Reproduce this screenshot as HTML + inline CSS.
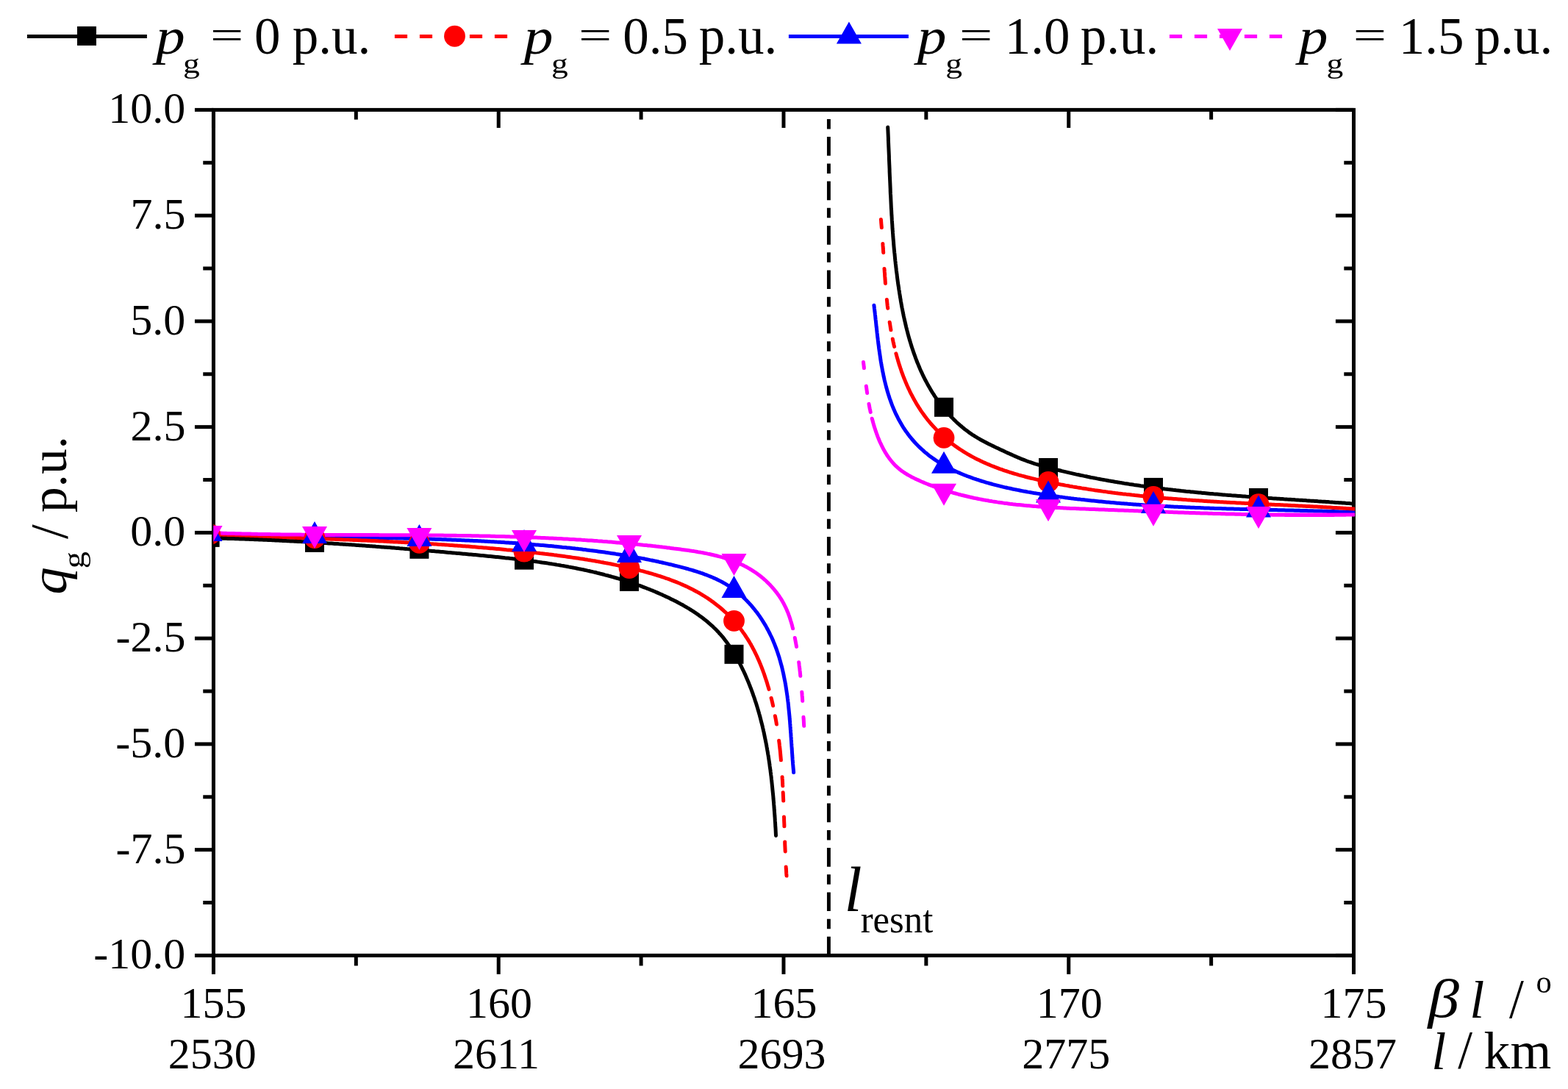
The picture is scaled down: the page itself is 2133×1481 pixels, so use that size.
<!DOCTYPE html>
<html><head><meta charset="utf-8"><title>q_g vs beta l</title>
<style>html,body{margin:0;padding:0;background:#fff;overflow:hidden;}</style>
</head><body>
<svg width="2133" height="1481" viewBox="0 0 2133 1481" style="display:block;font-family:'Liberation Serif',serif;">
<rect width="2133" height="1481" fill="#fff"/>
<g stroke-width="5.1" fill="none">
<line x1="36.9" y1="49.45" x2="199.9" y2="49.45" stroke="#000"/>
<line x1="536.9" y1="49.45" x2="699.9" y2="49.45" stroke="#f00" stroke-dasharray="17.2 16.8"/>
<line x1="1072.9" y1="49.45" x2="1235.9" y2="49.45" stroke="#00f"/>
<line x1="1590.9" y1="49.45" x2="1753.9" y2="49.45" stroke="#f0f" stroke-dasharray="17.2 16.8"/>
</g>
<rect x="105.00" y="35.90" width="26" height="26" fill="#000"/>
<circle cx="618.50" cy="49.25" r="14.4" fill="#f00"/>
<polygon points="1154.90,29.60 1171.90,59.60 1137.90,59.60" fill="#00f"/>
<polygon points="1656.00,38.90 1690.00,38.90 1673.00,68.90" fill="#f0f"/>
<text transform="translate(207.30,40.70) scale(1.1204,0.9754)" x="4.19" y="33.44" font-size="71.00" style="font-style:italic;">p</text>
<text transform="translate(250.90,78.90) scale(1.1676,0.9932)" x="-1.68" y="20.01" font-size="39.00" style="">g</text>
<text transform="translate(290.00,73.3) scale(1.132,0.767)" x="-3.55" y="-9.66" font-size="71">=</text>
<text x="346.10" y="73.30" font-size="71" style="">0</text>
<text x="397.86" y="73.30" font-size="71" style="">p.u.</text>
<text transform="translate(708.10,40.70) scale(1.1204,0.9754)" x="4.19" y="33.44" font-size="71.00" style="font-style:italic;">p</text>
<text transform="translate(752.00,78.90) scale(1.1676,0.9932)" x="-1.68" y="20.01" font-size="39.00" style="">g</text>
<text transform="translate(791.10,73.3) scale(1.132,0.767)" x="-3.55" y="-9.66" font-size="71">=</text>
<text x="847.20" y="73.30" font-size="71" style="">0.5</text>
<text x="950.86" y="73.30" font-size="71" style="">p.u.</text>
<text transform="translate(1243.10,40.70) scale(1.1204,0.9754)" x="4.19" y="33.44" font-size="71.00" style="font-style:italic;">p</text>
<text transform="translate(1288.20,78.90) scale(1.1676,0.9932)" x="-1.68" y="20.01" font-size="39.00" style="">g</text>
<text transform="translate(1308.90,73.3) scale(1.132,0.767)" x="-3.55" y="-9.66" font-size="71">=</text>
<text x="1366.85" y="73.30" font-size="71" style="">1.0</text>
<text x="1469.86" y="73.30" font-size="71" style="">p.u.</text>
<text transform="translate(1762.10,40.70) scale(1.1204,0.9754)" x="4.19" y="33.44" font-size="71.00" style="font-style:italic;">p</text>
<text transform="translate(1806.50,78.90) scale(1.1676,0.9932)" x="-1.68" y="20.01" font-size="39.00" style="">g</text>
<text transform="translate(1844.80,73.3) scale(1.132,0.767)" x="-3.55" y="-9.66" font-size="71">=</text>
<text x="1902.65" y="73.30" font-size="71" style="">1.5</text>
<text x="2005.86" y="73.30" font-size="71" style="">p.u.</text>
<g stroke="#000" stroke-width="5.0" fill="none">
<rect x="290.45" y="149.4" width="1551.05" height="1150.0" stroke-linejoin="miter"/>
<line x1="290.45" y1="1299.4" x2="290.45" y2="1324.9"/>
<line x1="290.45" y1="149.4" x2="290.45" y2="173.9"/>
<line x1="678.21" y1="1299.4" x2="678.21" y2="1324.9"/>
<line x1="678.21" y1="149.4" x2="678.21" y2="173.9"/>
<line x1="1065.97" y1="1299.4" x2="1065.97" y2="1324.9"/>
<line x1="1065.97" y1="149.4" x2="1065.97" y2="173.9"/>
<line x1="1453.74" y1="1299.4" x2="1453.74" y2="1324.9"/>
<line x1="1453.74" y1="149.4" x2="1453.74" y2="173.9"/>
<line x1="1841.50" y1="1299.4" x2="1841.50" y2="1324.9"/>
<line x1="1841.50" y1="149.4" x2="1841.50" y2="173.9"/>
<line x1="484.33" y1="1299.4" x2="484.33" y2="1313.4"/>
<line x1="484.33" y1="149.4" x2="484.33" y2="162.6"/>
<line x1="872.09" y1="1299.4" x2="872.09" y2="1313.4"/>
<line x1="872.09" y1="149.4" x2="872.09" y2="162.6"/>
<line x1="1259.86" y1="1299.4" x2="1259.86" y2="1313.4"/>
<line x1="1259.86" y1="149.4" x2="1259.86" y2="162.6"/>
<line x1="1647.62" y1="1299.4" x2="1647.62" y2="1313.4"/>
<line x1="1647.62" y1="149.4" x2="1647.62" y2="162.6"/>
<line x1="290.45" y1="149.40" x2="264.95" y2="149.40"/>
<line x1="1841.5" y1="149.40" x2="1816.90" y2="149.40"/>
<line x1="290.45" y1="293.15" x2="264.95" y2="293.15"/>
<line x1="1841.5" y1="293.15" x2="1816.90" y2="293.15"/>
<line x1="290.45" y1="436.90" x2="264.95" y2="436.90"/>
<line x1="1841.5" y1="436.90" x2="1816.90" y2="436.90"/>
<line x1="290.45" y1="580.65" x2="264.95" y2="580.65"/>
<line x1="1841.5" y1="580.65" x2="1816.90" y2="580.65"/>
<line x1="290.45" y1="724.40" x2="264.95" y2="724.40"/>
<line x1="1841.5" y1="724.40" x2="1816.90" y2="724.40"/>
<line x1="290.45" y1="868.15" x2="264.95" y2="868.15"/>
<line x1="1841.5" y1="868.15" x2="1816.90" y2="868.15"/>
<line x1="290.45" y1="1011.90" x2="264.95" y2="1011.90"/>
<line x1="1841.5" y1="1011.90" x2="1816.90" y2="1011.90"/>
<line x1="290.45" y1="1155.65" x2="264.95" y2="1155.65"/>
<line x1="1841.5" y1="1155.65" x2="1816.90" y2="1155.65"/>
<line x1="290.45" y1="1299.40" x2="264.95" y2="1299.40"/>
<line x1="1841.5" y1="1299.40" x2="1816.90" y2="1299.40"/>
<line x1="290.45" y1="221.28" x2="276.25" y2="221.28"/>
<line x1="1841.5" y1="221.28" x2="1828.30" y2="221.28"/>
<line x1="290.45" y1="365.03" x2="276.25" y2="365.03"/>
<line x1="1841.5" y1="365.03" x2="1828.30" y2="365.03"/>
<line x1="290.45" y1="508.78" x2="276.25" y2="508.78"/>
<line x1="1841.5" y1="508.78" x2="1828.30" y2="508.78"/>
<line x1="290.45" y1="652.53" x2="276.25" y2="652.53"/>
<line x1="1841.5" y1="652.53" x2="1828.30" y2="652.53"/>
<line x1="290.45" y1="796.28" x2="276.25" y2="796.28"/>
<line x1="1841.5" y1="796.28" x2="1828.30" y2="796.28"/>
<line x1="290.45" y1="940.03" x2="276.25" y2="940.03"/>
<line x1="1841.5" y1="940.03" x2="1828.30" y2="940.03"/>
<line x1="290.45" y1="1083.78" x2="276.25" y2="1083.78"/>
<line x1="1841.5" y1="1083.78" x2="1828.30" y2="1083.78"/>
<line x1="290.45" y1="1227.53" x2="276.25" y2="1227.53"/>
<line x1="1841.5" y1="1227.53" x2="1828.30" y2="1227.53"/>
</g>
<text x="147.34" y="167.40" font-size="60" style="">10.0</text>
<text x="177.40" y="311.15" font-size="60" style="">7.5</text>
<text x="177.34" y="454.90" font-size="60" style="">5.0</text>
<text x="177.40" y="598.65" font-size="60" style="">2.5</text>
<text x="177.34" y="742.40" font-size="60" style="">0.0</text>
<text x="157.42" y="886.15" font-size="60" style="">-2.5</text>
<text x="157.36" y="1029.90" font-size="60" style="">-5.0</text>
<text x="157.42" y="1173.65" font-size="60" style="">-7.5</text>
<text x="127.36" y="1317.40" font-size="60" style="">-10.0</text>
<text x="245.56" y="1383.50" font-size="60" style="">155</text>
<text x="228.85" y="1452.60" font-size="60" style="">2530</text>
<text x="633.93" y="1383.50" font-size="60" style="">160</text>
<text x="616.12" y="1452.60" font-size="60" style="">2611</text>
<text x="1021.56" y="1383.50" font-size="60" style="">165</text>
<text x="1003.38" y="1452.60" font-size="60" style="">2693</text>
<text x="1409.63" y="1383.50" font-size="60" style="">170</text>
<text x="1390.18" y="1452.60" font-size="60" style="">2775</text>
<text x="1796.56" y="1383.50" font-size="60" style="">175</text>
<text x="1780.08" y="1452.60" font-size="60" style="">2857</text>
<text transform="translate(1941.11,1330.60) scale(1.1500,1.0061)" x="1.18" y="52.10" font-size="74.00" style="font-style:italic;">β</text>
<text transform="translate(2003.13,1334.00) scale(1.0000,1.0021)" x="-3.82" y="49.97" font-size="72.00" style="font-style:italic;">l</text>
<text transform="translate(2053.00,1334.00) scale(0.9928,1.0500)" x="-0.00" y="47.45" font-size="72.00" style="">/</text>
<text transform="translate(2091.00,1328.90) scale(0.9896,1.0174)" x="-1.63" y="20.25" font-size="43.00" style="">o</text>
<text transform="translate(1951.08,1403.80) scale(1.0000,1.0041)" x="-3.82" y="49.97" font-size="72.00" style="font-style:italic;">l</text>
<text transform="translate(1983.20,1404.00) scale(0.9878,1.0396)" x="-0.00" y="47.45" font-size="72.00" style="">/</text>
<text transform="translate(2019.90,1403.80) scale(0.9964,0.9840)" x="-1.37" y="49.97" font-size="72.00" style="">km</text>
<g transform="translate(91,0) rotate(-90)">
<text transform="translate(-806.00,-33.00) scale(1.0516,0.9692)" x="-2.34" y="33.44" font-size="71.00" style="font-style:italic;">q</text>
<text transform="translate(-771.20,3.00) scale(1.1556,0.9959)" x="-1.72" y="20.52" font-size="40.00" style="">g</text>
<text x="-733.00" y="0.00" font-size="71" style="">/</text>
<text transform="translate(-695.90,-33.30) scale(0.9751,0.9713)" x="-1.14" y="33.44" font-size="71.00" style="">p.u.</text>
</g>
<line x1="1127.4" y1="162" x2="1127.4" y2="1299" stroke="#000" stroke-width="4.9" stroke-dasharray="13.5 10.6 25.7 10.63"/>
<text transform="translate(1153.06,1178.80) scale(1.0000,1.0026)" x="-4.58" y="60.03" font-size="86.50" style="font-style:italic;">l</text>
<text transform="translate(1171.70,1237.90) scale(0.9952,1.0318)" x="-1.02" y="28.71" font-size="51.00" style="">resnt</text>
<defs><clipPath id="pc"><rect x="290.45" y="0" width="1552.75" height="1481"/></clipPath></defs>
<g clip-path="url(#pc)" fill="none" stroke-width="5.0" stroke-linejoin="round">
<path d="M285.7,725.7 L287.9,725.8 L290.1,725.9 L292.4,726.0 L294.6,726.1 L296.8,726.2 L299.0,726.3 L301.3,726.4 L303.5,726.5 L305.7,726.6 L308.0,726.6 L310.2,726.7 L312.4,726.8 L314.7,726.9 L316.9,727.0 L319.1,727.1 L321.4,727.1 L323.6,727.2 L325.8,727.3 L328.1,727.4 L330.3,727.5 L332.5,727.5 L334.8,727.6 L337.0,727.7 L339.2,727.7 L341.5,727.8 L343.7,727.9 L345.9,728.0 L348.2,728.0 L350.4,728.1 L352.7,728.1 L354.9,728.2 L357.1,728.3 L359.4,728.3 L361.6,728.4 L363.8,728.5 L366.1,728.5 L368.3,728.6 L370.6,728.6 L372.8,728.7 L375.0,728.7 L377.3,728.8 L379.5,728.8 L381.8,728.9 L384.0,728.9 L386.2,729.0 L388.5,729.0 L390.7,729.1 L393.0,729.1 L395.2,729.2 L397.4,729.2 L399.7,729.3 L401.9,729.3 L404.2,729.4 L406.4,729.4 L408.7,729.5 L410.9,729.5 L413.1,729.6 L415.4,729.6 L417.6,729.6 L419.9,729.7 L422.1,729.7 L424.4,729.8 L426.6,729.8 L428.9,729.9 L431.1,729.9 L433.3,729.9 L435.6,730.0 L437.8,730.0 L440.1,730.1 L442.3,730.1 L444.6,730.1 L446.8,730.2 L449.1,730.2 L451.3,730.3 L453.6,730.3 L455.8,730.3 L458.0,730.4 L460.3,730.4 L462.5,730.4 L464.8,730.5 L467.0,730.5 L469.3,730.6 L471.5,730.6 L473.8,730.6 L476.0,730.7 L478.3,730.7 L480.5,730.8 L482.8,730.8 L485.0,730.8 L487.3,730.9 L489.5,730.9 L491.7,731.0 L494.0,731.0 L496.2,731.0 L498.5,731.1 L500.7,731.1 L503.0,731.2 L505.2,731.2 L507.5,731.2 L509.7,731.3 L512.0,731.3 L514.2,731.4 L516.5,731.4 L518.7,731.5 L521.0,731.5 L523.2,731.6 L525.5,731.6 L527.7,731.6 L530.0,731.7 L532.2,731.7 L534.4,731.8 L536.7,731.8 L538.9,731.9 L541.2,731.9 L543.4,732.0 L545.7,732.0 L547.9,732.1 L550.2,732.2 L552.4,732.2 L554.7,732.3 L556.9,732.3 L559.2,732.4 L561.4,732.4 L563.7,732.5 L565.9,732.6 L568.1,732.6 L570.4,732.7 L572.6,732.7 L574.9,732.8 L577.1,732.9 L579.4,732.9 L581.6,733.0 L583.9,733.1 L586.1,733.1 L588.4,733.2 L590.6,733.3 L592.8,733.4 L595.1,733.4 L597.3,733.5 L599.6,733.6 L601.8,733.7 L604.1,733.7 L606.3,733.8 L608.6,733.9 L610.8,734.0 L613.0,734.1 L615.3,734.2 L617.5,734.2 L619.8,734.3 L622.0,734.4 L624.3,734.5 L626.5,734.6 L628.7,734.7 L631.0,734.8 L633.2,734.9 L635.5,735.0 L637.7,735.1 L640.0,735.2 L642.2,735.3 L644.4,735.4 L646.7,735.5 L648.9,735.6 L651.2,735.7 L653.4,735.8 L655.6,736.0 L657.9,736.1 L660.1,736.2 L662.3,736.3 L664.6,736.4 L666.8,736.6 L669.1,736.7 L671.3,736.8 L673.5,736.9 L675.8,737.1 L678.0,737.2 L680.2,737.3 L682.5,737.5 L684.7,737.6 L687.0,737.8 L689.2,737.9 L691.4,738.0 L693.7,738.2 L695.9,738.3 L698.1,738.5 L700.4,738.6 L702.6,738.8 L704.8,739.0 L707.1,739.1 L709.3,739.3 L711.5,739.5 L713.8,739.6 L716.0,739.8 L718.2,740.0 L720.5,740.1 L722.7,740.3 L724.9,740.5 L727.1,740.7 L729.4,740.9 L731.6,741.0 L733.8,741.2 L736.1,741.4 L738.3,741.6 L740.5,741.8 L742.7,742.0 L745.0,742.2 L747.2,742.4 L749.4,742.6 L751.6,742.8 L753.9,743.1 L756.1,743.3 L758.3,743.5 L760.5,743.7 L762.8,743.9 L765.0,744.2 L767.2,744.4 L769.4,744.6 L771.6,744.9 L773.9,745.1 L776.1,745.3 L778.3,745.6 L780.5,745.8 L782.7,746.1 L785.0,746.3 L787.2,746.6 L789.4,746.8 L791.6,747.1 L793.8,747.4 L796.1,747.6 L798.3,747.9 L800.5,748.2 L802.7,748.5 L804.9,748.7 L807.1,749.0 L809.3,749.3 L811.5,749.6 L813.8,749.9 L816.0,750.2 L818.2,750.5 L820.4,750.8 L822.6,751.1 L824.8,751.4 L827.0,751.7 L829.2,752.1 L831.4,752.4 L833.7,752.7 L835.9,753.0 L838.1,753.4 L840.3,753.7 L842.5,754.1 L844.7,754.4 L846.9,754.8 L849.1,755.1 L851.3,755.5 L853.5,755.9 L855.7,756.2 L857.9,756.6 L860.1,757.0 L862.3,757.4 L864.5,757.8 L866.7,758.2 L869.0,758.6 L871.2,759.0 L873.4,759.4 L875.6,759.8 L877.8,760.3 L880.0,760.7 L882.2,761.1 L884.4,761.6 L886.6,762.0 L888.8,762.5 L890.7,762.9 L892.7,763.3 L894.7,763.7 L896.6,764.2 L898.6,764.6 L900.5,765.0 L902.5,765.5 L904.4,765.9 L906.4,766.4 L908.4,766.8 L910.3,767.3 L912.3,767.7 L914.2,768.2 L916.2,768.7 L918.1,769.2 L920.1,769.6 L922.0,770.1 L924.0,770.6 L926.0,771.1 L927.9,771.6 L929.9,772.2 L931.8,772.7 L933.8,773.2 L935.7,773.7 L937.7,774.3 L939.6,774.8 L941.6,775.4 L943.5,776.0 L945.4,776.6 L947.3,777.2 L949.3,777.8 L951.2,778.4 L953.1,779.1 L955.0,779.7 L956.9,780.4 L958.7,781.1 L960.9,781.8 L963.0,782.7 L965.0,783.5 L967.1,784.3 L969.2,785.2 L971.2,786.1 L973.2,787.0 L975.3,787.9 L977.3,788.9 L979.2,789.9 L981.2,790.9 L983.2,792.0 L985.1,793.1 L987.0,794.2 L988.9,795.3 L990.8,796.5 L992.6,797.7 L994.4,798.9 L996.2,800.2 L998.0,801.4 L999.8,802.8 L1001.5,804.1 L1003.3,805.5 L1005.0,806.9 L1006.6,808.3 L1008.3,809.7 L1009.9,811.2 L1011.6,812.7 L1013.1,814.3 L1014.7,815.8 L1016.3,817.4 L1017.8,819.0 L1019.3,820.6 L1020.8,822.2 L1022.3,823.9 L1023.7,825.6 L1025.1,827.3 L1026.5,829.0 L1027.9,830.8 L1029.3,832.5 L1030.6,834.3 L1031.9,836.1 L1033.2,837.9 L1034.5,839.8 L1035.7,841.6 L1036.9,843.5 L1038.1,845.4 L1039.3,847.3 L1040.4,849.2 L1041.6,851.1 L1042.7,853.1 L1043.7,855.0 L1044.8,857.0 L1045.8,859.0 L1046.9,861.0 L1047.8,863.0 L1048.8,865.0 L1049.8,867.0 L1050.7,869.1 L1051.6,871.1 L1052.4,873.2 L1053.3,875.2 L1054.1,877.3 L1054.9,879.4 L1055.7,881.5 L1056.5,883.6 L1057.2,885.7 L1057.9,887.8 L1058.6,889.9 L1059.3,892.0 L1060.0,894.1 L1060.6,896.3 L1061.2,898.4 L1061.8,900.6 L1062.4,902.8 L1063.0,904.9 L1063.6,907.1 L1064.1,909.3 L1064.6,911.5 L1065.1,913.6 L1065.6,915.8 L1066.0,917.8 L1066.4,919.8 L1066.8,921.7 L1067.2,923.7 L1067.6,925.7 L1068.0,927.6 L1068.3,929.6 L1068.7,931.6 L1069.0,933.6 L1069.3,935.5 L1069.6,937.5 L1069.9,939.5 L1070.2,941.5 L1070.5,943.5 L1070.8,945.5 L1071.1,947.5 L1071.3,949.5 L1071.6,951.5 L1071.8,953.5 L1072.1,955.5 L1072.3,957.5 L1072.5,959.5 L1072.7,961.5 L1072.9,963.6 L1073.1,965.6 L1073.3,967.6 L1073.5,969.6 L1073.7,971.6 L1073.9,973.6 L1074.1,975.6 L1074.2,977.6 L1074.4,979.6 L1074.6,981.7 L1074.7,983.7 L1074.9,985.7 L1075.0,987.7 L1075.2,989.7 L1075.3,991.7 L1075.5,993.7 L1075.6,995.7 L1075.8,997.7 L1075.9,999.7 L1076.0,1001.7 L1076.2,1003.7 L1076.3,1005.7 L1076.5,1007.9 L1076.6,1010.2 L1076.8,1012.4 L1076.9,1014.7 L1077.1,1016.9 L1077.2,1019.1 L1077.4,1021.3 L1077.5,1023.5 L1077.7,1025.8 L1077.8,1028.0 L1078.0,1030.2 L1078.1,1032.4 L1078.3,1034.6 L1078.5,1036.8 L1078.6,1038.9 L1078.8,1041.1 L1079.0,1043.3 L1079.2,1045.5 L1079.4,1047.6 L1079.6,1049.8 L1079.6,1050.5" stroke="#0000ff" stroke-linecap="round"/>
<path d="M1188.9,415.2 L1189.2,417.4 L1189.4,419.5 L1189.7,421.6 L1189.9,423.7 L1190.2,425.9 L1190.4,428.0 L1190.7,430.2 L1190.9,432.4 L1191.1,434.5 L1191.4,436.7 L1191.6,438.7 L1191.8,440.7 L1192.0,442.7 L1192.2,444.7 L1192.5,446.7 L1192.7,448.8 L1192.9,450.8 L1193.1,452.8 L1193.4,454.9 L1193.6,456.9 L1193.8,458.9 L1194.1,461.0 L1194.3,463.0 L1194.6,465.1 L1194.8,467.2 L1195.1,469.2 L1195.4,471.3 L1195.6,473.3 L1195.9,475.4 L1196.2,477.5 L1196.5,479.5 L1196.8,481.6 L1197.1,483.6 L1197.4,485.7 L1197.7,487.8 L1198.0,489.8 L1198.3,491.9 L1198.7,494.0 L1199.0,496.0 L1199.4,498.1 L1199.8,500.1 L1200.2,502.2 L1200.5,504.2 L1201.0,506.3 L1201.4,508.3 L1201.8,510.4 L1202.2,512.4 L1202.7,514.4 L1203.1,516.5 L1203.6,518.5 L1204.1,520.5 L1204.6,522.5 L1205.1,524.5 L1205.6,526.5 L1206.2,528.5 L1206.7,530.5 L1207.3,532.5 L1207.9,534.5 L1208.5,536.4 L1209.1,538.4 L1209.8,540.4 L1210.4,542.3 L1211.1,544.2 L1211.8,546.2 L1212.5,548.1 L1213.2,550.0 L1213.9,551.9 L1214.7,553.8 L1215.5,555.7 L1216.3,557.5 L1217.1,559.4 L1217.9,561.2 L1218.8,563.1 L1219.7,564.9 L1220.6,566.7 L1221.5,568.5 L1222.4,570.3 L1223.4,572.1 L1224.4,573.8 L1225.4,575.6 L1226.4,577.3 L1227.4,579.0 L1228.5,580.8 L1229.6,582.5 L1230.7,584.1 L1231.8,585.8 L1233.0,587.4 L1234.2,589.1 L1235.4,590.7 L1236.6,592.3 L1237.8,593.9 L1239.1,595.4 L1240.4,597.0 L1241.7,598.5 L1243.0,600.0 L1244.3,601.5 L1245.7,603.0 L1247.1,604.4 L1248.5,605.9 L1249.9,607.3 L1251.3,608.7 L1252.8,610.0 L1254.3,611.4 L1255.8,612.7 L1257.3,614.1 L1258.8,615.4 L1260.4,616.6 L1261.9,617.9 L1263.5,619.2 L1265.1,620.4 L1266.7,621.6 L1268.4,622.8 L1270.0,623.9 L1271.7,625.1 L1273.4,626.2 L1275.0,627.3 L1276.7,628.4 L1278.5,629.5 L1280.2,630.5 L1281.9,631.6 L1283.7,632.6 L1285.5,633.6 L1287.2,634.5 L1289.0,635.5 L1290.8,636.5 L1292.6,637.4 L1294.5,638.3 L1296.3,639.2 L1298.1,640.1 L1300.0,640.9 L1301.8,641.8 L1303.7,642.6 L1305.6,643.4 L1307.5,644.2 L1309.4,645.0 L1311.3,645.8 L1313.2,646.5 L1315.1,647.3 L1317.0,648.0 L1318.9,648.7 L1320.9,649.4 L1322.8,650.1 L1324.8,650.8 L1326.7,651.4 L1328.7,652.1 L1330.6,652.7 L1332.6,653.4 L1334.5,654.0 L1336.5,654.6 L1338.5,655.2 L1340.5,655.8 L1342.4,656.4 L1344.4,656.9 L1346.4,657.5 L1348.4,658.0 L1350.4,658.6 L1352.3,659.1 L1354.3,659.6 L1356.3,660.1 L1358.3,660.6 L1360.3,661.1 L1362.3,661.6 L1364.3,662.1 L1366.3,662.6 L1368.3,663.0 L1370.3,663.5 L1372.3,663.9 L1374.3,664.3 L1376.3,664.8 L1378.3,665.2 L1380.3,665.6 L1382.3,666.0 L1384.3,666.4 L1386.3,666.8 L1388.3,667.2 L1390.3,667.6 L1392.3,668.0 L1394.4,668.3 L1396.4,668.7 L1398.4,669.1 L1400.4,669.4 L1402.4,669.8 L1404.4,670.1 L1406.4,670.5 L1408.5,670.8 L1410.5,671.1 L1412.5,671.4 L1414.5,671.8 L1416.5,672.1 L1418.6,672.4 L1420.6,672.7 L1422.6,673.0 L1424.6,673.3 L1426.7,673.6 L1428.7,673.9 L1430.7,674.2 L1432.7,674.5 L1434.7,674.8 L1436.8,675.1 L1438.8,675.3 L1440.8,675.6 L1442.8,675.9 L1444.9,676.1 L1446.9,676.4 L1448.9,676.7 L1451.0,676.9 L1453.0,677.2 L1455.0,677.4 L1457.0,677.7 L1459.1,677.9 L1461.1,678.2 L1463.1,678.4 L1465.2,678.7 L1467.2,678.9 L1469.2,679.1 L1471.2,679.4 L1473.3,679.6 L1475.3,679.8 L1477.3,680.1 L1479.4,680.3 L1481.4,680.5 L1483.4,680.7 L1485.5,680.9 L1487.5,681.1 L1489.5,681.3 L1491.6,681.5 L1493.6,681.7 L1495.6,681.9 L1497.7,682.1 L1499.7,682.3 L1501.7,682.5 L1503.8,682.7 L1505.8,682.9 L1507.8,683.1 L1509.9,683.3 L1511.9,683.5 L1513.9,683.6 L1516.0,683.8 L1518.0,684.0 L1520.0,684.2 L1522.1,684.3 L1524.1,684.5 L1526.1,684.7 L1528.2,684.8 L1530.2,685.0 L1532.3,685.1 L1534.3,685.3 L1536.3,685.4 L1538.4,685.6 L1540.4,685.7 L1542.4,685.9 L1544.5,686.0 L1546.5,686.2 L1548.6,686.3 L1550.6,686.5 L1552.6,686.6 L1554.7,686.7 L1556.7,686.9 L1558.8,687.0 L1560.8,687.1 L1562.8,687.2 L1564.9,687.4 L1566.9,687.5 L1569.0,687.6 L1571.0,687.7 L1573.0,687.9 L1575.1,688.0 L1577.1,688.1 L1579.2,688.2 L1581.2,688.3 L1583.3,688.4 L1585.3,688.5 L1587.3,688.6 L1589.4,688.7 L1591.4,688.8 L1593.5,689.0 L1595.5,689.1 L1597.5,689.2 L1599.6,689.3 L1601.6,689.3 L1603.7,689.4 L1605.7,689.5 L1607.8,689.6 L1609.8,689.7 L1611.8,689.8 L1613.9,689.9 L1615.9,690.0 L1618.0,690.1 L1620.0,690.2 L1622.1,690.2 L1624.1,690.3 L1626.2,690.4 L1628.2,690.5 L1630.2,690.6 L1632.3,690.6 L1634.3,690.7 L1636.4,690.8 L1638.4,690.9 L1640.5,690.9 L1642.5,691.0 L1644.6,691.1 L1646.6,691.2 L1648.7,691.2 L1650.7,691.3 L1652.7,691.4 L1654.8,691.4 L1656.8,691.5 L1658.9,691.6 L1660.9,691.6 L1663.0,691.7 L1665.0,691.7 L1667.1,691.8 L1669.1,691.9 L1671.2,691.9 L1673.2,692.0 L1675.2,692.0 L1677.3,692.1 L1679.3,692.2 L1681.4,692.2 L1683.4,692.3 L1685.5,692.3 L1687.5,692.4 L1689.6,692.4 L1691.6,692.5 L1693.7,692.5 L1695.7,692.6 L1697.8,692.7 L1699.8,692.7 L1701.8,692.8 L1703.9,692.8 L1705.9,692.9 L1708.0,692.9 L1710.0,693.0 L1712.1,693.0 L1714.1,693.1 L1716.2,693.1 L1718.2,693.2 L1720.3,693.2 L1722.3,693.3 L1724.4,693.3 L1726.4,693.4 L1728.4,693.4 L1730.5,693.5 L1732.5,693.5 L1734.6,693.6 L1736.6,693.6 L1738.7,693.7 L1740.7,693.7 L1742.8,693.8 L1744.8,693.8 L1746.9,693.8 L1748.9,693.9 L1750.9,693.9 L1753.0,694.0 L1755.0,694.0 L1757.1,694.1 L1759.1,694.1 L1761.2,694.2 L1763.2,694.2 L1765.3,694.3 L1767.3,694.3 L1769.4,694.4 L1771.4,694.4 L1773.4,694.5 L1775.5,694.5 L1777.5,694.6 L1779.6,694.7 L1781.6,694.7 L1783.7,694.8 L1785.7,694.8 L1787.8,694.9 L1789.8,694.9 L1791.8,695.0 L1793.9,695.0 L1795.9,695.1 L1798.0,695.1 L1800.0,695.2 L1802.1,695.3 L1804.1,695.3 L1806.2,695.4 L1808.2,695.4 L1810.2,695.5 L1812.3,695.6 L1814.3,695.6 L1816.4,695.7 L1818.4,695.8 L1820.4,695.8 L1822.5,695.9 L1824.5,696.0 L1826.6,696.0 L1828.6,696.1 L1830.7,696.2 L1832.7,696.2 L1834.7,696.3 L1836.8,696.4 L1838.8,696.5 L1840.9,696.5 L1842.5,696.6" stroke="#0000ff" stroke-linecap="round"/>
<path d="M285.6,727.1 L287.8,727.2 L290.0,727.3 L292.2,727.4 L294.4,727.5 L296.6,727.6 L298.8,727.6 L300.9,727.7 L303.1,727.8 L305.3,727.9 L307.5,728.0 L309.7,728.1 L311.9,728.2 L314.1,728.2 L316.3,728.3 L318.5,728.4 L320.7,728.5 L322.8,728.6 L325.0,728.7 L327.2,728.7 L329.4,728.8 L331.6,728.9 L333.8,729.0 L336.0,729.1 L338.2,729.2 L340.4,729.2 L342.6,729.3 L344.8,729.4 L347.0,729.5 L349.1,729.6 L351.3,729.6 L353.5,729.7 L355.7,729.8 L357.9,729.9 L360.1,729.9 L362.3,730.0 L364.5,730.1 L366.7,730.2 L368.9,730.3 L371.1,730.3 L373.3,730.4 L375.5,730.5 L377.7,730.6 L379.9,730.6 L382.1,730.7 L384.3,730.8 L386.5,730.9 L388.6,731.0 L390.8,731.0 L393.0,731.1 L395.2,731.2 L397.4,731.3 L399.6,731.3 L401.8,731.4 L404.0,731.5 L406.2,731.6 L408.4,731.7 L410.6,731.7 L412.8,731.8 L415.0,731.9 L417.2,732.0 L419.4,732.0 L421.6,732.1 L423.8,732.2 L426.0,732.3 L428.2,732.4 L430.4,732.4 L432.6,732.5 L434.8,732.6 L437.0,732.7 L439.2,732.8 L441.4,732.8 L443.6,732.9 L445.8,733.0 L448.0,733.1 L450.2,733.2 L452.4,733.3 L454.6,733.3 L456.7,733.4 L458.9,733.5 L461.1,733.6 L463.3,733.7 L465.5,733.8 L467.7,733.9 L469.9,733.9 L472.1,734.0 L474.3,734.1 L476.5,734.2 L478.7,734.3 L480.9,734.4 L483.1,734.5 L485.3,734.6 L487.5,734.7 L489.7,734.8 L491.9,734.9 L494.1,734.9 L496.3,735.0 L498.5,735.1 L500.7,735.2 L502.9,735.3 L505.1,735.4 L507.3,735.5 L509.5,735.6 L511.7,735.7 L513.9,735.8 L516.1,735.9 L518.3,736.0 L520.5,736.1 L522.7,736.2 L524.9,736.3 L527.1,736.4 L529.2,736.6 L531.4,736.7 L533.6,736.8 L535.8,736.9 L538.0,737.0 L540.2,737.1 L542.4,737.2 L544.6,737.3 L546.8,737.4 L549.0,737.6 L551.2,737.7 L553.4,737.8 L555.6,737.9 L557.8,738.0 L560.0,738.1 L562.2,738.3 L564.4,738.4 L566.6,738.5 L568.8,738.6 L571.0,738.8 L573.1,738.9 L575.3,739.0 L577.5,739.1 L579.7,739.3 L581.9,739.4 L584.1,739.5 L586.3,739.7 L588.5,739.8 L590.7,740.0 L592.9,740.1 L595.1,740.2 L597.3,740.4 L599.5,740.5 L601.7,740.7 L603.8,740.8 L606.0,740.9 L608.2,741.1 L610.4,741.2 L612.6,741.4 L614.8,741.5 L617.0,741.7 L619.2,741.9 L621.4,742.0 L623.6,742.2 L625.8,742.3 L627.9,742.5 L630.1,742.7 L632.3,742.8 L634.5,743.0 L636.7,743.1 L638.9,743.3 L641.1,743.5 L643.3,743.7 L645.4,743.8 L647.6,744.0 L649.8,744.2 L652.0,744.4 L654.2,744.5 L656.4,744.7 L658.6,744.9 L660.8,745.1 L662.9,745.3 L665.1,745.5 L667.3,745.7 L669.5,745.8 L671.7,746.0 L673.9,746.2 L676.0,746.4 L678.2,746.6 L680.4,746.8 L682.6,747.0 L684.8,747.2 L687.0,747.4 L689.1,747.7 L691.3,747.9 L693.5,748.1 L695.7,748.3 L697.9,748.5 L700.0,748.7 L702.2,748.9 L704.4,749.2 L706.6,749.4 L708.8,749.6 L710.9,749.8 L713.1,750.1 L715.3,750.3 L717.5,750.5 L719.7,750.8 L721.8,751.0 L724.0,751.3 L726.2,751.5 L728.4,751.7 L730.5,752.0 L732.7,752.2 L734.9,752.5 L737.1,752.7 L739.2,753.0 L741.4,753.3 L743.6,753.5 L745.8,753.8 L747.9,754.1 L750.1,754.3 L752.3,754.6 L754.4,754.9 L756.6,755.1 L758.8,755.4 L761.0,755.7 L763.1,756.0 L765.3,756.3 L767.5,756.6 L769.6,756.9 L771.8,757.2 L774.0,757.5 L776.2,757.8 L778.3,758.1 L780.5,758.4 L782.7,758.7 L784.8,759.0 L787.0,759.3 L789.2,759.7 L791.3,760.0 L793.5,760.3 L795.7,760.7 L797.8,761.0 L800.0,761.4 L802.2,761.7 L804.3,762.1 L806.5,762.5 L808.7,762.8 L810.8,763.2 L813.0,763.6 L815.2,764.0 L817.3,764.4 L819.5,764.7 L821.7,765.2 L823.8,765.6 L826.0,766.0 L828.2,766.4 L830.3,766.8 L832.5,767.2 L834.7,767.7 L836.8,768.1 L839.0,768.6 L841.2,769.0 L843.3,769.5 L845.5,769.9 L847.7,770.4 L849.8,770.9 L852.0,771.4 L854.2,771.9 L856.3,772.4 L858.5,772.9 L860.7,773.4 L862.8,773.9 L865.0,774.4 L867.2,775.0 L869.3,775.5 L871.5,776.1 L873.7,776.6 L875.8,777.2 L878.0,777.8 L880.1,778.4 L882.3,779.0 L884.4,779.6 L886.6,780.2 L888.7,780.8 L890.8,781.5 L893.0,782.1 L895.1,782.8 L897.2,783.4 L899.3,784.1 L901.5,784.8 L903.6,785.5 L905.7,786.3 L907.8,787.0 L909.8,787.7 L911.9,788.5 L914.0,789.3 L916.1,790.1 L918.1,790.9 L920.2,791.7 L922.2,792.5 L924.2,793.3 L926.3,794.2 L928.3,795.1 L930.3,796.0 L932.3,796.9 L934.3,797.8 L936.3,798.7 L938.2,799.7 L940.2,800.7 L942.1,801.6 L944.1,802.7 L946.0,803.7 L947.9,804.7 L949.8,805.8 L951.7,806.8 L953.5,807.9 L955.4,809.1 L957.2,810.2 L959.1,811.3 L960.9,812.5 L962.7,813.7 L964.5,814.9 L966.3,816.1 L968.0,817.4 L969.8,818.6 L971.5,819.9 L973.2,821.2 L974.9,822.6 L976.6,823.9 L978.3,825.3 L980.0,826.6 L981.6,828.0 L983.2,829.4 L984.8,830.9 L986.4,832.3 L988.0,833.8 L989.5,835.3 L991.1,836.8 L992.6,838.3 L994.1,839.9 L995.6,841.4 L997.0,843.0 L998.5,844.6 L999.9,846.2 L1001.3,847.8 L1002.7,849.5 L1004.1,851.1 L1005.4,852.8 L1006.8,854.5 L1008.1,856.2 L1009.4,857.9 L1010.6,859.7 L1011.9,861.4 L1013.1,863.2 L1014.3,865.0 L1015.5,866.8 L1016.7,868.6 L1017.8,870.4 L1019.0,872.3 L1020.1,874.2 L1021.2,876.0 L1022.2,877.9 L1023.3,879.8 L1024.3,881.8 L1025.3,883.7 L1026.3,885.6 L1027.3,887.6 L1028.2,889.5 L1029.2,891.5 L1030.1,893.5 L1031.0,895.5 L1031.9,897.5 L1032.8,899.5 L1033.6,901.5 L1034.5,903.6 L1035.3,905.6 L1036.1,907.7 L1036.9,909.7 L1037.7,911.8 L1038.4,913.9 L1039.2,915.9 L1039.9,918.0 L1040.6,920.1 L1041.3,922.2 L1042.0,924.3 L1042.7,926.4 L1043.4,928.5 L1044.0,930.6 L1044.6,932.8 L1045.3,934.9 L1045.9,937.0 L1046.0,937.4" stroke="#ff0000" stroke-linecap="round"/>
<path d="M1049.1,949.3 L1049.7,951.4 L1050.2,953.6 L1050.7,955.7 L1051.2,957.9 L1051.6,959.7" stroke="#ff0000" stroke-linecap="round"/>
<path d="M1054.4,973.7 L1054.8,975.7 L1055.2,977.8 L1055.6,980.0 L1056.0,982.2 L1056.3,984.3 L1056.4,985.0" stroke="#ff0000" stroke-linecap="round"/>
<path d="M1059.6,1007.2 L1059.9,1009.4 L1060.2,1011.6 L1060.4,1013.8 L1060.7,1016.0 L1060.9,1018.2 L1061.2,1020.4 L1061.4,1022.6 L1061.6,1024.8 L1061.8,1027.0 L1062.0,1029.2 L1062.2,1031.4 L1062.4,1033.6 L1062.4,1033.8" stroke="#ff0000" stroke-linecap="round"/>
<path d="M1064.1,1056.7 L1064.2,1058.9 L1064.4,1061.1 L1064.5,1063.3 L1064.6,1065.5 L1064.7,1067.7 L1064.8,1068.7" stroke="#ff0000" stroke-linecap="round"/>
<path d="M1065.2,1077.8 L1065.3,1079.8 L1065.4,1082.1 L1065.5,1084.3 L1065.6,1086.5 L1065.7,1088.7 L1065.7,1089.0" stroke="#ff0000" stroke-linecap="round"/>
<path d="M1066.5,1111.0 L1066.6,1113.2 L1066.6,1115.4 L1066.7,1117.6 L1066.8,1119.7 L1066.9,1121.9 L1066.9,1123.8" stroke="#ff0000" stroke-linecap="round"/>
<path d="M1067.7,1145.1 L1067.7,1147.1 L1067.8,1149.3 L1067.9,1151.5 L1068.0,1153.7 L1068.1,1155.8 L1068.2,1157.9" stroke="#ff0000" stroke-linecap="round"/>
<path d="M1069.2,1179.1 L1069.3,1181.3 L1069.5,1183.4 L1069.6,1185.6 L1069.7,1187.7 L1069.9,1189.9 L1070.0,1191.1" stroke="#ff0000" stroke-linecap="round"/>
<path d="M1218.9,480.9 L1219.5,483.0 L1220.0,485.0 L1220.6,486.9 L1221.2,488.9 L1221.7,490.8 L1222.3,492.8 L1222.9,494.7 L1223.5,496.7 L1224.2,498.6 L1224.8,500.5 L1225.5,502.4 L1226.1,504.3 L1226.8,506.3 L1227.5,508.2 L1228.2,510.1 L1228.9,512.0 L1229.6,513.8 L1230.4,515.7 L1231.2,517.6 L1231.9,519.5 L1232.7,521.3 L1233.5,523.2 L1234.3,525.0 L1235.2,526.9 L1236.0,528.7 L1236.9,530.5 L1237.7,532.3 L1238.6,534.1 L1239.5,535.9 L1240.5,537.7 L1241.4,539.5 L1242.3,541.2 L1243.3,543.0 L1244.3,544.8 L1245.3,546.5 L1246.4,548.4 L1247.5,550.3 L1248.7,552.2 L1249.9,554.1 L1251.1,555.9 L1252.3,557.8 L1253.5,559.6 L1254.8,561.4 L1256.1,563.2 L1257.4,565.0 L1258.7,566.8 L1260.0,568.5 L1261.4,570.3 L1262.8,572.0 L1264.2,573.7 L1265.6,575.4 L1267.0,577.0 L1268.5,578.7 L1270.0,580.3 L1271.5,581.9 L1273.0,583.5 L1274.5,585.1 L1276.0,586.7 L1277.6,588.2 L1279.2,589.7 L1280.8,591.3 L1282.4,592.7 L1284.0,594.2 L1285.7,595.7 L1287.3,597.1 L1289.0,598.5 L1290.7,599.9 L1292.4,601.3 L1294.1,602.6 L1295.9,604.0 L1297.6,605.3 L1299.4,606.6 L1301.2,607.8 L1303.0,609.1 L1304.8,610.3 L1306.6,611.5 L1308.4,612.7 L1310.3,613.9 L1312.2,615.1 L1314.0,616.2 L1315.9,617.3 L1317.8,618.4 L1319.7,619.5 L1321.7,620.6 L1323.6,621.6 L1325.5,622.6 L1327.5,623.7 L1329.5,624.7 L1331.4,625.6 L1333.4,626.6 L1335.4,627.5 L1337.4,628.5 L1339.5,629.4 L1341.5,630.3 L1343.5,631.2 L1345.4,631.9 L1347.2,632.7 L1349.1,633.5 L1350.9,634.2 L1352.8,634.9 L1354.7,635.7 L1356.6,636.4 L1358.5,637.1 L1360.4,637.8 L1362.3,638.4 L1364.2,639.1 L1366.1,639.8 L1368.0,640.4 L1369.9,641.0 L1371.8,641.7 L1373.8,642.3 L1375.7,642.9 L1377.7,643.5 L1379.6,644.1 L1381.6,644.7 L1383.5,645.2 L1385.5,645.8 L1387.4,646.3 L1389.4,646.9 L1391.4,647.4 L1393.4,647.9 L1395.3,648.5 L1397.3,649.0 L1399.3,649.5 L1401.3,650.0 L1403.3,650.5 L1405.3,650.9 L1407.3,651.4 L1409.3,651.9 L1411.3,652.3 L1413.3,652.8 L1415.3,653.2 L1417.3,653.7 L1419.3,654.1 L1421.3,654.6 L1423.3,655.0 L1425.3,655.4 L1427.3,655.8 L1429.3,656.2 L1431.3,656.6 L1433.3,657.0 L1435.3,657.4 L1437.3,657.8 L1439.3,658.2 L1441.3,658.6 L1443.3,659.0 L1445.4,659.3 L1447.4,659.7 L1449.4,660.1 L1451.4,660.4 L1453.4,660.8 L1455.4,661.2 L1457.4,661.5 L1459.4,661.9 L1461.4,662.2 L1463.4,662.5 L1465.4,662.9 L1467.4,663.2 L1469.4,663.5 L1471.4,663.9 L1473.4,664.2 L1475.4,664.5 L1477.4,664.8 L1479.4,665.1 L1481.4,665.5 L1483.4,665.8 L1485.4,666.1 L1487.4,666.4 L1489.4,666.7 L1491.3,666.9 L1493.3,667.2 L1495.3,667.5 L1497.3,667.8 L1499.3,668.1 L1501.3,668.4 L1503.3,668.6 L1505.3,668.9 L1507.3,669.2 L1509.3,669.4 L1511.3,669.7 L1513.3,670.0 L1515.3,670.2 L1517.2,670.5 L1519.2,670.7 L1521.2,671.0 L1523.2,671.2 L1525.2,671.4 L1527.2,671.7 L1529.2,671.9 L1531.2,672.1 L1533.1,672.4 L1535.1,672.6 L1537.3,672.8 L1539.5,673.1 L1541.8,673.3 L1544.0,673.6 L1546.2,673.8 L1548.4,674.0 L1550.6,674.3 L1552.8,674.5 L1555.0,674.7 L1557.2,674.9 L1559.4,675.2 L1561.6,675.4 L1563.8,675.6 L1566.0,675.8 L1568.2,676.0 L1570.4,676.2 L1572.6,676.4 L1574.8,676.6 L1577.0,676.8 L1579.2,677.0 L1581.5,677.2 L1583.7,677.4 L1585.9,677.6 L1588.1,677.7 L1590.3,677.9 L1592.5,678.1 L1594.7,678.3 L1596.9,678.5 L1599.1,678.6 L1601.3,678.8 L1603.5,679.0 L1605.7,679.1 L1607.9,679.3 L1610.1,679.5 L1612.3,679.6 L1614.5,679.8 L1616.7,679.9 L1618.9,680.1 L1621.1,680.2 L1623.3,680.4 L1625.6,680.5 L1627.8,680.7 L1630.0,680.8 L1632.2,681.0 L1634.4,681.1 L1636.6,681.2 L1638.8,681.4 L1641.0,681.5 L1643.2,681.7 L1645.4,681.8 L1647.6,681.9 L1649.8,682.0 L1652.0,682.2 L1654.2,682.3 L1656.5,682.4 L1658.7,682.6 L1660.9,682.7 L1663.1,682.8 L1665.3,682.9 L1667.5,683.0 L1669.7,683.2 L1671.9,683.3 L1674.2,683.4 L1676.4,683.5 L1678.6,683.6 L1680.8,683.7 L1683.0,683.9 L1685.2,684.0 L1687.4,684.1 L1689.7,684.2 L1691.9,684.3 L1694.1,684.4 L1696.3,684.5 L1698.5,684.6 L1700.7,684.7 L1702.7,684.8 L1704.7,684.9 L1706.7,685.0 L1708.7,685.1 L1710.7,685.2 L1712.7,685.3 L1714.7,685.4 L1716.7,685.5 L1718.7,685.6 L1720.7,685.7 L1722.8,685.8 L1724.8,685.9 L1726.8,686.0 L1728.8,686.1 L1730.8,686.2 L1732.8,686.3 L1734.8,686.4 L1736.8,686.5 L1738.8,686.6 L1740.8,686.6 L1742.8,686.7 L1744.8,686.8 L1746.8,686.9 L1748.8,687.0 L1750.9,687.1 L1752.9,687.2 L1754.9,687.3 L1756.9,687.4 L1758.9,687.5 L1760.9,687.6 L1762.9,687.7 L1765.0,687.8 L1767.0,687.9 L1769.0,688.0 L1771.0,688.1 L1773.0,688.2 L1775.1,688.3 L1777.1,688.4 L1779.1,688.5 L1781.1,688.6 L1783.1,688.7 L1785.2,688.8 L1787.2,688.9 L1789.2,689.0 L1791.3,689.1 L1793.3,689.2 L1795.3,689.3 L1797.3,689.4 L1799.4,689.6 L1801.4,689.7 L1803.4,689.8 L1805.5,689.9 L1807.5,690.0 L1809.5,690.1 L1811.6,690.2 L1813.6,690.4 L1815.7,690.5 L1817.7,690.6 L1819.7,690.7 L1821.8,690.8 L1823.8,691.0 L1825.9,691.1 L1827.9,691.2 L1829.9,691.3 L1832.0,691.5 L1834.0,691.6 L1836.1,691.7 L1838.1,691.8 L1840.2,692.0 L1842.2,692.1 L1842.7,692.1" stroke="#ff0000" stroke-linecap="round"/>
<path d="M1198.4,298.4 L1198.6,300.4 L1198.7,302.6 L1198.9,304.7 L1199.1,306.9 L1199.3,309.0 L1199.3,309.5" stroke="#ff0000" stroke-linecap="round"/>
<path d="M1200.9,331.5 L1201.0,333.7 L1201.2,335.9 L1201.3,338.1 L1201.5,340.3 L1201.6,342.5 L1201.7,343.5" stroke="#ff0000" stroke-linecap="round"/>
<path d="M1203.0,365.5 L1203.2,367.7 L1203.3,369.7 L1203.5,371.7 L1203.6,373.7 L1203.7,375.7 L1203.9,377.7 L1204.0,379.8 L1204.2,381.8 L1204.3,383.8 L1204.4,385.4" stroke="#ff0000" stroke-linecap="round"/>
<path d="M1206.4,407.6 L1206.6,409.6 L1206.8,411.6 L1207.0,413.6 L1207.2,415.6 L1207.5,417.7 L1207.7,419.2" stroke="#ff0000" stroke-linecap="round"/>
<path d="M1210.2,438.3 L1210.6,440.5 L1210.9,442.5 L1211.2,444.5 L1211.5,446.5 L1211.9,448.5 L1211.9,448.7" stroke="#ff0000" stroke-linecap="round"/>
<path d="M1214.3,461.0 L1214.7,463.1 L1215.1,465.1 L1215.6,467.0 L1216.0,469.0 L1216.5,471.0 L1216.6,471.4" stroke="#ff0000" stroke-linecap="round"/>
<path d="M285.3,731.7 L287.4,731.8 L289.4,731.8 L291.5,731.9 L293.5,731.9 L295.6,732.0 L297.6,732.0 L299.6,732.1 L301.7,732.1 L303.7,732.2 L305.8,732.3 L307.8,732.3 L309.8,732.4 L311.9,732.4 L313.9,732.5 L315.9,732.6 L318.0,732.6 L320.0,732.7 L322.0,732.8 L324.1,732.8 L326.1,732.9 L328.1,733.0 L330.2,733.0 L332.2,733.1 L334.2,733.2 L336.3,733.3 L338.3,733.3 L340.3,733.4 L342.3,733.5 L344.4,733.6 L346.4,733.7 L348.4,733.7 L350.4,733.8 L352.5,733.9 L354.5,734.0 L356.5,734.1 L358.5,734.2 L360.6,734.2 L362.6,734.3 L364.6,734.4 L366.6,734.5 L368.7,734.6 L370.7,734.7 L372.7,734.8 L374.7,734.9 L376.7,735.0 L378.8,735.1 L380.8,735.2 L382.8,735.3 L384.8,735.4 L386.8,735.5 L388.9,735.6 L390.9,735.7 L392.9,735.8 L394.9,735.9 L396.9,736.0 L398.9,736.1 L401.0,736.2 L403.0,736.3 L405.0,736.4 L407.0,736.5 L409.0,736.6 L411.0,736.7 L413.0,736.8 L415.1,736.9 L417.1,737.1 L419.1,737.2 L421.1,737.3 L423.1,737.4 L425.1,737.5 L427.1,737.6 L429.2,737.8 L431.2,737.9 L433.2,738.0 L435.2,738.1 L437.2,738.2 L439.2,738.4 L441.2,738.5 L443.2,738.6 L445.2,738.7 L447.3,738.9 L449.3,739.0 L451.3,739.1 L453.3,739.2 L455.3,739.4 L457.3,739.5 L459.3,739.6 L461.3,739.8 L463.3,739.9 L465.3,740.0 L467.4,740.2 L469.4,740.3 L471.4,740.4 L473.4,740.6 L475.4,740.7 L477.4,740.8 L479.4,741.0 L481.4,741.1 L483.4,741.2 L485.4,741.4 L487.4,741.5 L489.4,741.7 L491.5,741.8 L493.5,742.0 L495.5,742.1 L497.5,742.2 L499.5,742.4 L501.5,742.5 L503.5,742.7 L505.5,742.8 L507.5,743.0 L509.5,743.1 L511.5,743.3 L513.6,743.4 L515.6,743.6 L517.6,743.7 L519.6,743.9 L521.6,744.0 L523.6,744.2 L525.6,744.3 L527.6,744.5 L529.6,744.6 L531.6,744.8 L533.6,745.0 L535.6,745.1 L537.7,745.3 L539.7,745.4 L541.7,745.6 L543.7,745.8 L545.7,745.9 L547.7,746.1 L549.7,746.2 L551.7,746.4 L553.7,746.6 L555.8,746.7 L557.8,746.9 L559.8,747.1 L561.8,747.2 L563.8,747.4 L565.8,747.5 L567.8,747.7 L569.8,747.9 L571.8,748.1 L573.9,748.2 L575.9,748.4 L577.9,748.6 L579.9,748.7 L581.9,748.9 L583.9,749.1 L585.9,749.2 L588.0,749.4 L590.0,749.6 L592.0,749.8 L594.0,749.9 L596.0,750.1 L598.0,750.3 L600.1,750.5 L602.1,750.6 L604.1,750.8 L606.1,751.0 L608.1,751.2 L610.1,751.4 L612.2,751.5 L614.2,751.7 L616.2,751.9 L618.2,752.1 L620.2,752.2 L622.3,752.4 L624.3,752.6 L626.3,752.8 L628.3,753.0 L630.3,753.2 L632.4,753.3 L634.4,753.5 L636.4,753.7 L638.4,753.9 L640.5,754.1 L642.5,754.3 L644.5,754.5 L646.5,754.6 L648.6,754.8 L650.6,755.0 L652.6,755.2 L654.6,755.4 L656.7,755.6 L658.7,755.8 L660.7,756.0 L662.7,756.2 L664.8,756.4 L666.8,756.6 L668.8,756.8 L670.8,757.0 L672.9,757.2 L674.9,757.4 L676.9,757.6 L678.9,757.8 L681.0,758.0 L683.0,758.2 L685.0,758.4 L687.1,758.7 L689.1,758.9 L691.1,759.1 L693.1,759.3 L695.1,759.6 L697.2,759.8 L699.2,760.0 L701.2,760.2 L703.2,760.5 L705.3,760.7 L707.3,761.0 L709.3,761.2 L711.3,761.5 L713.3,761.7 L715.4,762.0 L717.4,762.2 L719.4,762.5 L721.4,762.7 L723.4,763.0 L725.5,763.3 L727.5,763.5 L729.5,763.8 L731.5,764.1 L733.5,764.4 L735.5,764.7 L737.5,765.0 L739.5,765.2 L741.6,765.5 L743.6,765.8 L745.6,766.1 L747.6,766.5 L749.6,766.8 L751.6,767.1 L753.6,767.4 L755.6,767.7 L757.6,768.1 L759.6,768.4 L761.6,768.7 L763.6,769.1 L765.6,769.4 L767.6,769.8 L769.6,770.1 L771.6,770.5 L773.5,770.9 L775.5,771.2 L777.5,771.6 L779.5,772.0 L781.5,772.4 L783.5,772.8 L785.5,773.2 L787.4,773.6 L789.4,774.0 L791.4,774.4 L793.4,774.8 L795.3,775.2 L797.3,775.6 L799.3,776.1 L801.3,776.5 L803.2,777.0 L805.2,777.4 L807.2,777.9 L809.1,778.3 L811.1,778.8 L813.0,779.3 L815.0,779.8 L816.9,780.3 L818.9,780.7 L820.9,781.2 L822.8,781.8 L824.7,782.3 L826.7,782.8 L828.6,783.3 L830.6,783.8 L832.5,784.4 L834.4,784.9 L836.4,785.5 L838.3,786.0 L840.2,786.6 L842.2,787.2 L844.1,787.8 L846.0,788.4 L847.9,789.0 L849.8,789.6 L851.8,790.2 L853.7,790.8 L855.6,791.4 L857.5,792.0 L859.4,792.7 L861.3,793.3 L863.2,794.0 L865.1,794.7 L867.0,795.3 L868.9,796.0 L870.8,796.7 L872.7,797.4 L874.5,798.1 L876.4,798.8 L878.3,799.5 L880.2,800.3 L882.1,801.0 L883.9,801.7 L885.8,802.5 L887.7,803.2 L889.5,804.0 L891.4,804.8 L893.2,805.6 L895.1,806.4 L896.9,807.2 L898.8,808.0 L900.6,808.8 L902.5,809.7 L904.3,810.5 L906.1,811.4 L908.0,812.2 L909.8,813.1 L911.6,814.0 L913.4,814.9 L915.3,815.8 L917.1,816.7 L918.9,817.6 L920.7,818.5 L922.5,819.5 L924.3,820.4 L926.0,821.4 L927.8,822.3 L929.6,823.3 L931.3,824.3 L933.1,825.4 L934.8,826.4 L936.6,827.4 L938.3,828.5 L940.0,829.5 L941.7,830.6 L943.4,831.7 L945.1,832.8 L946.8,833.9 L948.4,835.1 L950.1,836.2 L951.7,837.4 L953.3,838.6 L955.0,839.8 L956.6,841.0 L958.1,842.2 L959.7,843.4 L961.3,844.7 L962.8,846.0 L964.3,847.3 L965.8,848.6 L967.5,850.1 L969.2,851.6 L970.8,853.2 L972.4,854.7 L974.0,856.3 L975.4,857.7 L976.8,859.2 L978.1,860.7 L979.5,862.2 L980.8,863.7 L982.1,865.2 L983.4,866.7 L984.7,868.3 L985.9,869.9 L987.1,871.5 L988.3,873.1 L989.5,874.7 L990.7,876.4 L991.9,878.0 L993.0,879.7 L994.2,881.4 L995.3,883.1 L996.4,884.8 L997.4,886.5 L998.5,888.2 L999.6,890.0 L1000.6,891.7 L1001.6,893.5 L1002.6,895.3 L1003.6,897.1 L1004.6,898.9 L1005.5,900.7 L1006.5,902.5 L1007.4,904.3 L1008.3,906.1 L1009.2,908.0 L1010.1,909.8 L1011.0,911.7 L1011.9,913.5 L1012.7,915.4 L1013.6,917.2 L1014.4,919.1 L1015.2,921.0 L1016.0,922.9 L1016.8,924.7 L1017.6,926.6 L1018.4,928.5 L1019.1,930.4 L1019.9,932.3 L1020.6,934.2 L1021.4,936.1 L1022.1,938.0 L1022.8,939.9 L1023.5,941.8 L1024.2,943.7 L1024.8,945.6 L1025.5,947.5 L1026.2,949.4 L1026.8,951.3 L1027.4,953.3 L1028.1,955.2 L1028.7,957.1 L1029.3,959.0 L1029.9,960.9 L1030.5,962.9 L1031.0,964.8 L1031.6,966.7 L1032.2,968.7 L1032.7,970.6 L1033.3,972.6 L1033.8,974.5 L1034.3,976.4 L1034.8,978.4 L1035.3,980.3 L1035.8,982.3 L1036.3,984.2 L1036.8,986.2 L1037.3,988.2 L1037.7,990.1 L1038.2,992.1 L1038.6,994.0 L1039.1,996.0 L1039.5,998.0 L1039.9,999.9 L1040.3,1001.9 L1040.7,1003.9 L1041.1,1005.8 L1041.5,1007.8 L1041.9,1009.8 L1042.3,1011.8 L1042.7,1013.8 L1043.0,1015.7 L1043.4,1017.7 L1043.7,1019.7 L1044.1,1021.7 L1044.4,1023.7 L1044.7,1025.7 L1045.1,1027.6 L1045.4,1029.6 L1045.7,1031.6 L1046.0,1033.6 L1046.3,1035.6 L1046.6,1037.6 L1046.9,1039.6 L1047.1,1041.6 L1047.4,1043.6 L1047.7,1045.6 L1048.0,1047.6 L1048.2,1049.6 L1048.5,1051.6 L1048.7,1053.6 L1049.0,1055.6 L1049.2,1057.6 L1049.4,1059.6 L1049.7,1061.7 L1049.9,1063.7 L1050.1,1065.7 L1050.3,1067.7 L1050.5,1069.7 L1050.7,1071.7 L1050.9,1073.7 L1051.1,1075.7 L1051.3,1077.8 L1051.5,1079.8 L1051.7,1081.8 L1051.9,1083.8 L1052.0,1085.8 L1052.2,1087.8 L1052.4,1089.9 L1052.6,1091.9 L1052.7,1093.9 L1052.9,1095.9 L1053.0,1098.0 L1053.2,1100.0 L1053.3,1102.0 L1053.5,1104.0 L1053.6,1106.0 L1053.8,1108.1 L1053.9,1110.1 L1054.1,1112.1 L1054.2,1114.1 L1054.3,1116.2 L1054.5,1118.2 L1054.6,1120.2 L1054.7,1122.2 L1054.8,1124.3 L1055.0,1126.3 L1055.1,1128.3 L1055.2,1130.3 L1055.3,1132.4 L1055.4,1134.4 L1055.5,1136.4" stroke="#000000" stroke-linecap="round"/>
<path d="M1207.7,173.0 L1207.8,175.1 L1207.9,177.1 L1208.0,179.3 L1208.1,181.6 L1208.2,183.8 L1208.3,186.0 L1208.4,188.3 L1208.4,190.5 L1208.5,192.8 L1208.6,195.0 L1208.7,197.2 L1208.8,199.5 L1208.9,201.7 L1209.0,203.9 L1209.1,206.2 L1209.2,208.4 L1209.3,210.6 L1209.4,212.9 L1209.4,215.1 L1209.5,217.3 L1209.6,219.6 L1209.7,221.8 L1209.8,224.0 L1209.9,226.2 L1210.0,228.5 L1210.1,230.7 L1210.1,232.9 L1210.2,235.1 L1210.3,237.3 L1210.4,239.6 L1210.5,241.8 L1210.6,244.0 L1210.7,246.2 L1210.8,248.4 L1210.9,250.6 L1211.0,252.9 L1211.1,255.1 L1211.2,257.3 L1211.2,259.5 L1211.3,261.7 L1211.4,263.9 L1211.6,266.1 L1211.7,268.3 L1211.8,270.5 L1211.9,272.8 L1212.0,275.0 L1212.1,277.2 L1212.2,279.4 L1212.3,281.6 L1212.4,283.8 L1212.6,286.0 L1212.7,288.2 L1212.8,290.4 L1212.9,292.6 L1213.1,294.8 L1213.2,297.0 L1213.3,299.2 L1213.5,301.4 L1213.6,303.6 L1213.8,305.8 L1213.9,308.1 L1214.0,310.3 L1214.2,312.5 L1214.4,314.7 L1214.5,316.9 L1214.7,319.1 L1214.8,321.3 L1215.0,323.5 L1215.2,325.7 L1215.4,327.9 L1215.6,330.1 L1215.7,332.3 L1215.9,334.5 L1216.1,336.7 L1216.3,338.9 L1216.5,341.1 L1216.7,343.3 L1217.0,345.5 L1217.2,347.7 L1217.4,349.9 L1217.6,352.1 L1217.8,354.3 L1218.1,356.5 L1218.3,358.8 L1218.6,361.0 L1218.8,363.2 L1219.1,365.4 L1219.3,367.6 L1219.6,369.8 L1219.9,372.0 L1220.2,374.2 L1220.4,376.4 L1220.7,378.6 L1221.0,380.8 L1221.3,383.1 L1221.6,385.3 L1221.9,387.5 L1222.3,389.7 L1222.6,391.9 L1222.9,394.1 L1223.3,396.3 L1223.6,398.6 L1224.0,400.8 L1224.3,403.0 L1224.7,405.2 L1225.1,407.4 L1225.4,409.6 L1225.8,411.8 L1226.2,414.0 L1226.6,416.3 L1227.0,418.5 L1227.5,420.7 L1227.9,422.9 L1228.3,425.1 L1228.8,427.3 L1229.2,429.5 L1229.7,431.7 L1230.2,433.9 L1230.7,436.1 L1231.2,438.2 L1231.7,440.4 L1232.2,442.6 L1232.7,444.8 L1233.3,447.0 L1233.8,449.1 L1234.4,451.3 L1234.9,453.5 L1235.5,455.6 L1236.1,457.8 L1236.7,459.9 L1237.3,462.1 L1238.0,464.2 L1238.6,466.3 L1239.3,468.5 L1239.9,470.6 L1240.6,472.7 L1241.3,474.8 L1242.0,476.9 L1242.7,479.0 L1243.5,481.1 L1244.2,483.2 L1245.0,485.3 L1245.7,487.4 L1246.5,489.4 L1247.3,491.5 L1248.1,493.5 L1249.0,495.6 L1249.8,497.6 L1250.7,499.6 L1251.5,501.7 L1252.4,503.7 L1253.3,505.7 L1254.3,507.7 L1255.2,509.7 L1256.1,511.6 L1257.1,513.6 L1258.1,515.6 L1259.1,517.5 L1260.1,519.4 L1261.2,521.4 L1262.2,523.3 L1263.3,525.2 L1264.4,527.1 L1265.5,529.0 L1266.6,530.9 L1267.7,532.7 L1268.9,534.6 L1270.1,536.4 L1271.3,538.3 L1272.5,540.1 L1273.7,541.9 L1275.0,543.7 L1276.2,545.5 L1277.5,547.2 L1278.8,549.0 L1280.2,550.7 L1281.5,552.5 L1282.9,554.2 L1284.3,555.9 L1285.7,557.6 L1287.1,559.3 L1288.6,561.0 L1290.0,562.6 L1291.5,564.2 L1293.0,565.9 L1294.5,567.4 L1296.1,569.0 L1297.6,570.6 L1299.2,572.1 L1300.8,573.7 L1302.4,575.2 L1304.1,576.6 L1305.7,578.1 L1307.4,579.5 L1309.0,580.9 L1310.7,582.3 L1312.4,583.7 L1314.2,585.0 L1315.9,586.3 L1317.6,587.6 L1319.4,588.9 L1321.2,590.1 L1323.0,591.3 L1324.8,592.4 L1326.6,593.6 L1328.4,594.7 L1330.3,595.8 L1332.2,596.9 L1334.0,598.0 L1335.9,599.0 L1337.8,600.0 L1339.7,601.0 L1341.6,602.0 L1343.5,603.0 L1345.4,604.0 L1347.4,604.9 L1349.3,605.9 L1351.3,606.8 L1353.2,607.8 L1355.2,608.7 L1357.1,609.6 L1359.1,610.5 L1361.1,611.5 L1363.1,612.4 L1365.1,613.3 L1367.1,614.3 L1369.1,615.2 L1371.1,616.1 L1373.1,617.0 L1375.1,617.9 L1377.1,618.8 L1379.1,619.7 L1381.2,620.6 L1383.2,621.5 L1385.2,622.4 L1387.3,623.2 L1389.3,624.1 L1391.4,624.9 L1393.5,625.7 L1395.6,626.5 L1397.6,627.3 L1399.7,628.0 L1401.8,628.7 L1403.9,629.4 L1406.0,630.1 L1408.2,630.8 L1410.3,631.4 L1412.4,632.1 L1414.6,632.7 L1416.7,633.3 L1418.8,633.9 L1421.0,634.5 L1423.1,635.1 L1425.3,635.7 L1427.4,636.2 L1429.6,636.8 L1431.7,637.3 L1433.9,637.9 L1436.1,638.4 L1438.2,639.0 L1440.4,639.5 L1442.5,640.0 L1444.7,640.6 L1446.9,641.1 L1449.0,641.6 L1451.2,642.1 L1453.3,642.6 L1455.5,643.1 L1457.7,643.6 L1459.8,644.1 L1462.0,644.6 L1464.2,645.1 L1466.3,645.5 L1468.5,646.0 L1470.7,646.5 L1472.9,646.9 L1475.0,647.4 L1477.2,647.8 L1479.4,648.3 L1481.6,648.7 L1483.7,649.2 L1485.9,649.6 L1488.1,650.0 L1490.3,650.4 L1492.5,650.9 L1494.6,651.3 L1496.8,651.7 L1499.0,652.1 L1501.2,652.5 L1503.4,652.9 L1505.6,653.3 L1507.7,653.7 L1509.9,654.1 L1512.1,654.4 L1514.3,654.8 L1516.5,655.2 L1518.7,655.6 L1520.9,655.9 L1523.1,656.3 L1525.3,656.6 L1527.4,657.0 L1529.6,657.4 L1531.8,657.7 L1534.0,658.0 L1536.2,658.4 L1538.4,658.7 L1540.6,659.0 L1542.8,659.4 L1545.0,659.7 L1547.2,660.0 L1549.4,660.3 L1551.6,660.7 L1553.8,661.0 L1556.0,661.3 L1558.2,661.6 L1560.4,661.9 L1562.6,662.2 L1564.8,662.5 L1567.0,662.8 L1569.2,663.0 L1571.4,663.3 L1573.6,663.6 L1575.8,663.9 L1578.1,664.2 L1580.3,664.4 L1582.5,664.7 L1584.7,665.0 L1586.9,665.2 L1589.1,665.5 L1591.3,665.7 L1593.5,666.0 L1595.7,666.3 L1597.9,666.5 L1600.1,666.8 L1602.4,667.0 L1604.6,667.2 L1606.8,667.5 L1609.0,667.7 L1611.2,667.9 L1613.4,668.2 L1615.6,668.4 L1617.8,668.6 L1620.1,668.9 L1622.3,669.1 L1624.5,669.3 L1626.7,669.5 L1628.9,669.7 L1631.1,669.9 L1633.4,670.1 L1635.6,670.4 L1637.8,670.6 L1640.0,670.8 L1642.2,671.0 L1644.4,671.2 L1646.7,671.4 L1648.9,671.6 L1651.1,671.8 L1653.3,671.9 L1655.5,672.1 L1657.7,672.3 L1660.0,672.5 L1662.2,672.7 L1664.4,672.9 L1666.6,673.1 L1668.8,673.2 L1671.1,673.4 L1673.3,673.6 L1675.5,673.8 L1677.7,673.9 L1679.9,674.1 L1682.2,674.3 L1684.4,674.5 L1686.6,674.6 L1688.8,674.8 L1691.0,675.0 L1693.3,675.1 L1695.5,675.3 L1697.7,675.4 L1699.9,675.6 L1702.1,675.8 L1704.4,675.9 L1706.6,676.1 L1708.8,676.2 L1711.0,676.4 L1713.3,676.5 L1715.5,676.7 L1717.7,676.9 L1719.9,677.0 L1722.1,677.2 L1724.4,677.3 L1726.6,677.5 L1728.8,677.6 L1731.0,677.8 L1733.2,677.9 L1735.5,678.0 L1737.7,678.2 L1739.9,678.3 L1742.1,678.5 L1744.3,678.6 L1746.6,678.8 L1748.8,678.9 L1751.0,679.1 L1753.2,679.2 L1755.4,679.3 L1757.7,679.5 L1759.9,679.6 L1762.1,679.8 L1764.3,679.9 L1766.5,680.1 L1768.7,680.2 L1771.0,680.3 L1773.2,680.5 L1775.4,680.6 L1777.6,680.8 L1779.8,680.9 L1782.0,681.1 L1784.3,681.2 L1786.5,681.3 L1788.7,681.5 L1790.9,681.6 L1793.1,681.8 L1795.3,681.9 L1797.5,682.1 L1799.8,682.2 L1802.0,682.3 L1804.2,682.5 L1806.4,682.6 L1808.6,682.8 L1810.8,682.9 L1813.0,683.1 L1815.2,683.2 L1817.4,683.4 L1819.7,683.5 L1821.9,683.7 L1824.1,683.8 L1826.3,684.0 L1828.5,684.1 L1830.7,684.3 L1832.9,684.4 L1835.1,684.6 L1837.3,684.8 L1839.5,684.9 L1841.7,685.1 L1842.5,685.1" stroke="#000000" stroke-linecap="round"/>
<path d="M285.5,724.6 L287.7,724.6 L289.9,724.7 L292.1,724.8 L294.3,724.9 L296.5,724.9 L298.7,725.0 L300.9,725.1 L303.1,725.2 L305.3,725.2 L307.5,725.3 L309.7,725.4 L312.0,725.4 L314.2,725.5 L316.4,725.5 L318.6,725.6 L320.8,725.7 L323.0,725.7 L325.2,725.8 L327.4,725.8 L329.6,725.9 L331.8,725.9 L334.0,726.0 L336.2,726.0 L338.4,726.1 L340.6,726.1 L342.8,726.2 L345.0,726.2 L347.2,726.3 L349.4,726.3 L351.6,726.4 L353.8,726.4 L356.0,726.4 L358.2,726.5 L360.4,726.5 L362.6,726.6 L364.8,726.6 L367.0,726.6 L369.2,726.7 L371.5,726.7 L373.7,726.7 L375.9,726.8 L378.1,726.8 L380.3,726.8 L382.5,726.9 L384.7,726.9 L386.9,726.9 L389.1,726.9 L391.3,727.0 L393.5,727.0 L395.7,727.0 L397.9,727.0 L400.1,727.1 L402.3,727.1 L404.5,727.1 L406.7,727.1 L408.9,727.1 L411.1,727.2 L413.3,727.2 L415.5,727.2 L417.7,727.2 L419.9,727.2 L422.1,727.3 L424.3,727.3 L426.5,727.3 L428.7,727.3 L430.9,727.3 L433.1,727.3 L435.3,727.3 L437.5,727.4 L439.7,727.4 L441.9,727.4 L444.1,727.4 L446.3,727.4 L448.5,727.4 L450.7,727.4 L452.9,727.4 L455.1,727.4 L457.3,727.5 L459.5,727.5 L461.7,727.5 L463.9,727.5 L466.1,727.5 L468.3,727.5 L470.5,727.5 L472.7,727.5 L474.9,727.5 L477.1,727.5 L479.3,727.5 L481.5,727.5 L483.7,727.6 L485.9,727.6 L488.1,727.6 L490.3,727.6 L492.5,727.6 L494.7,727.6 L496.9,727.6 L499.1,727.6 L501.3,727.6 L503.5,727.6 L505.7,727.6 L507.9,727.6 L510.1,727.6 L512.3,727.6 L514.5,727.6 L516.7,727.7 L518.9,727.7 L521.1,727.7 L523.3,727.7 L525.5,727.7 L527.7,727.7 L529.9,727.7 L532.1,727.7 L534.3,727.7 L536.5,727.7 L538.7,727.7 L540.9,727.7 L543.1,727.7 L545.3,727.8 L547.5,727.8 L549.7,727.8 L551.8,727.8 L554.0,727.8 L556.2,727.8 L558.4,727.8 L560.6,727.8 L562.8,727.8 L565.0,727.9 L567.2,727.9 L569.4,727.9 L571.6,727.9 L573.8,727.9 L576.0,727.9 L578.2,727.9 L580.4,728.0 L582.6,728.0 L584.8,728.0 L587.0,728.0 L589.2,728.0 L591.4,728.0 L593.6,728.1 L595.8,728.1 L598.0,728.1 L600.2,728.1 L602.4,728.1 L604.6,728.2 L606.8,728.2 L609.0,728.2 L611.2,728.2 L613.4,728.3 L615.6,728.3 L617.8,728.3 L620.0,728.3 L622.2,728.4 L624.4,728.4 L626.6,728.4 L628.8,728.5 L631.0,728.5 L633.2,728.5 L635.4,728.6 L637.6,728.6 L639.8,728.6 L642.0,728.7 L644.1,728.7 L646.3,728.7 L648.5,728.8 L650.7,728.8 L652.9,728.9 L655.1,728.9 L657.3,729.0 L659.5,729.0 L661.7,729.1 L663.9,729.1 L666.1,729.1 L668.3,729.2 L670.5,729.2 L672.7,729.3 L674.9,729.4 L677.1,729.4 L679.3,729.5 L681.5,729.5 L683.7,729.6 L685.9,729.6 L688.1,729.7 L690.3,729.8 L692.5,729.8 L694.7,729.9 L696.9,730.0 L699.1,730.0 L701.3,730.1 L703.5,730.2 L705.7,730.2 L707.9,730.3 L710.1,730.4 L712.3,730.5 L714.5,730.5 L716.7,730.6 L718.9,730.7 L721.1,730.8 L723.3,730.9 L725.4,730.9 L727.6,731.0 L729.8,731.1 L732.0,731.2 L734.2,731.3 L736.4,731.4 L738.6,731.5 L740.8,731.6 L743.0,731.7 L745.2,731.8 L747.4,731.9 L749.6,732.0 L751.8,732.1 L754.0,732.2 L756.2,732.3 L758.4,732.4 L760.6,732.5 L762.8,732.6 L765.0,732.7 L767.2,732.9 L769.4,733.0 L771.6,733.1 L773.8,733.2 L776.0,733.4 L778.2,733.5 L780.4,733.6 L782.6,733.7 L784.8,733.9 L787.0,734.0 L789.2,734.1 L791.4,734.3 L793.6,734.4 L795.8,734.6 L798.0,734.7 L800.2,734.9 L802.4,735.0 L804.6,735.1 L806.8,735.3 L809.0,735.5 L811.2,735.6 L813.4,735.8 L815.6,735.9 L817.8,736.1 L820.0,736.3 L822.2,736.4 L824.4,736.6 L826.6,736.8 L828.8,736.9 L831.0,737.1 L833.2,737.3 L835.4,737.5 L837.6,737.7 L839.8,737.9 L842.0,738.0 L844.2,738.2 L846.4,738.4 L848.6,738.6 L850.8,738.8 L853.0,739.0 L855.2,739.2 L857.4,739.4 L859.6,739.6 L861.8,739.8 L864.0,740.1 L866.2,740.3 L868.4,740.5 L870.6,740.7 L872.8,740.9 L875.0,741.2 L877.2,741.4 L879.4,741.6 L881.6,741.9 L883.8,742.1 L886.0,742.3 L888.2,742.6 L890.4,742.8 L892.6,743.1 L894.8,743.3 L897.0,743.6 L899.2,743.8 L901.4,744.1 L903.6,744.3 L905.8,744.6 L908.0,744.9 L910.2,745.1 L912.4,745.4 L914.6,745.7 L916.8,746.0 L919.0,746.2 L921.2,746.5 L923.4,746.8 L925.6,747.1 L927.8,747.4 L930.0,747.7 L932.2,748.0 L934.4,748.3 L936.6,748.6 L938.8,748.9 L941.0,749.3 L943.2,749.6 L945.3,749.9 L947.5,750.3 L949.7,750.7 L951.9,751.0 L954.1,751.4 L956.2,751.8 L958.4,752.2 L960.6,752.6 L962.7,753.1 L964.9,753.5 L967.0,754.0 L969.1,754.5 L971.3,755.0 L973.4,755.5 L975.5,756.0 L977.6,756.6 L979.7,757.1 L981.8,757.7 L983.9,758.3 L985.9,759.0 L988.0,759.6 L990.1,760.3 L992.1,761.0 L994.1,761.7 L996.2,762.4 L998.2,763.2 L1000.2,764.0 L1002.2,764.8 L1004.1,765.6 L1006.1,766.5 L1008.0,767.4 L1010.0,768.3 L1011.9,769.3 L1013.8,770.2 L1015.7,771.2 L1017.6,772.3 L1019.5,773.4 L1021.3,774.5 L1023.2,775.6 L1025.0,776.8 L1026.8,778.0 L1028.6,779.2 L1030.4,780.5 L1032.1,781.8 L1033.9,783.1 L1035.6,784.5 L1037.3,785.9 L1039.0,787.3 L1040.7,788.8 L1042.3,790.3 L1043.9,791.9 L1045.5,793.4 L1047.1,795.0 L1048.6,796.6 L1050.1,798.3 L1051.6,800.0 L1053.0,801.7 L1054.4,803.4 L1055.8,805.1 L1057.2,806.9 L1058.5,808.7 L1059.8,810.5 L1061.0,812.4 L1062.2,814.2 L1063.4,816.1 L1064.5,818.0 L1065.6,819.9 L1066.6,821.9 L1067.6,823.8 L1068.6,825.8 L1069.5,827.8 L1070.4,829.8 L1071.2,831.8 L1072.1,833.8 L1072.8,835.9 L1073.6,837.9 L1074.3,840.0 L1075.0,842.1 L1075.6,844.2 L1076.3,846.3 L1076.9,848.4 L1077.5,850.5 L1078.0,852.6 L1078.6,854.7 L1078.6,854.8" stroke="#ff00ff" stroke-linecap="round"/>
<path d="M1081.3,867.5 L1081.7,869.6 L1082.1,871.7 L1082.5,873.9 L1082.9,876.1 L1083.3,878.3 L1083.5,879.5" stroke="#ff00ff" stroke-linecap="round"/>
<path d="M1086.7,900.7 L1087.0,902.9 L1087.2,905.1 L1087.5,907.3 L1087.8,909.4 L1088.0,911.6 L1088.3,913.8 L1088.5,916.0 L1088.7,918.2 L1088.8,919.2" stroke="#ff00ff" stroke-linecap="round"/>
<path d="M1090.8,941.2 L1091.0,943.2 L1091.1,945.4 L1091.3,947.6 L1091.5,949.8 L1091.6,952.0 L1091.7,953.2" stroke="#ff00ff" stroke-linecap="round"/>
<path d="M1093.0,975.3 L1093.1,977.3 L1093.3,979.5 L1093.4,981.7 L1093.5,983.9 L1093.6,986.1 L1093.7,987.3" stroke="#ff00ff" stroke-linecap="round"/>
<path d="M1186.2,569.2 L1186.8,571.2 L1187.3,573.3 L1187.9,575.4 L1188.5,577.5 L1189.1,579.6 L1189.8,581.7 L1190.5,583.8 L1191.1,585.9 L1191.9,588.0 L1192.6,590.0 L1193.4,592.1 L1194.1,594.1 L1194.9,596.0 L1195.6,597.8 L1196.4,599.7 L1197.2,601.5 L1198.1,603.3 L1198.9,605.1 L1199.9,607.1 L1200.9,609.1 L1201.9,611.0 L1203.0,612.9 L1204.0,614.8 L1205.2,616.7 L1206.3,618.5 L1207.5,620.3 L1208.8,622.1 L1210.0,623.8 L1211.3,625.5 L1212.7,627.2 L1214.1,628.8 L1215.5,630.4 L1216.9,632.0 L1218.4,633.5 L1220.0,634.9 L1221.6,636.3 L1223.2,637.7 L1224.8,639.0 L1226.5,640.3 L1228.3,641.5 L1230.0,642.7 L1231.8,643.9 L1233.7,645.0 L1235.5,646.1 L1237.4,647.1 L1239.3,648.2 L1241.2,649.2 L1243.1,650.1 L1245.0,651.1 L1247.0,652.0 L1249.0,652.9 L1251.0,653.8 L1252.9,654.7 L1254.9,655.5 L1256.9,656.4 L1258.9,657.2 L1260.9,658.0 L1263.0,658.8 L1265.0,659.6 L1267.0,660.4 L1269.0,661.1 L1271.0,661.9 L1273.1,662.6 L1275.1,663.3 L1277.1,664.0 L1279.2,664.7 L1281.2,665.4 L1283.2,666.1 L1285.3,666.8 L1287.3,667.4 L1289.4,668.0 L1291.5,668.7 L1293.5,669.3 L1295.6,669.9 L1297.6,670.5 L1299.7,671.0 L1301.8,671.6 L1303.9,672.2 L1305.9,672.7 L1308.0,673.3 L1310.1,673.8 L1312.2,674.3 L1314.3,674.8 L1316.4,675.3 L1318.5,675.8 L1320.6,676.2 L1322.7,676.7 L1324.8,677.2 L1326.9,677.6 L1329.0,678.0 L1331.1,678.5 L1333.2,678.9 L1335.3,679.3 L1337.4,679.7 L1339.5,680.1 L1341.7,680.4 L1343.8,680.8 L1345.9,681.2 L1348.0,681.5 L1350.2,681.9 L1352.3,682.2 L1354.4,682.5 L1356.6,682.9 L1358.7,683.2 L1360.8,683.5 L1363.0,683.8 L1365.1,684.1 L1367.3,684.4 L1369.4,684.6 L1371.6,684.9 L1373.7,685.2 L1375.9,685.4 L1378.0,685.7 L1380.2,685.9 L1382.3,686.2 L1384.5,686.4 L1386.6,686.6 L1388.8,686.8 L1391.0,687.0 L1393.1,687.3 L1395.3,687.5 L1397.4,687.7 L1399.6,687.8 L1401.8,688.0 L1403.9,688.2 L1406.1,688.4 L1408.3,688.6 L1410.4,688.7 L1412.6,688.9 L1414.8,689.0 L1417.0,689.2 L1419.1,689.3 L1421.3,689.5 L1423.5,689.6 L1425.6,689.8 L1427.8,689.9 L1430.0,690.0 L1432.2,690.2 L1434.4,690.3 L1436.5,690.4 L1438.7,690.5 L1440.9,690.6 L1443.1,690.7 L1445.2,690.8 L1447.4,691.0 L1449.6,691.1 L1451.8,691.2 L1454.0,691.3 L1456.1,691.4 L1458.3,691.4 L1460.5,691.5 L1462.7,691.6 L1464.8,691.7 L1467.0,691.8 L1469.2,691.9 L1471.4,692.0 L1473.6,692.1 L1475.7,692.1 L1477.9,692.2 L1480.1,692.3 L1482.3,692.4 L1484.4,692.5 L1486.6,692.6 L1488.8,692.6 L1491.0,692.7 L1493.1,692.8 L1495.3,692.9 L1497.5,693.0 L1499.7,693.0 L1501.8,693.1 L1504.0,693.2 L1506.2,693.3 L1508.3,693.4 L1510.5,693.4 L1512.7,693.5 L1514.8,693.6 L1517.0,693.7 L1519.2,693.8 L1521.3,693.9 L1523.5,693.9 L1525.7,694.0 L1527.8,694.1 L1530.0,694.2 L1532.1,694.3 L1534.3,694.3 L1536.5,694.4 L1538.6,694.5 L1540.8,694.6 L1543.0,694.7 L1545.1,694.8 L1547.3,694.8 L1549.4,694.9 L1551.6,695.0 L1553.7,695.1 L1555.9,695.2 L1558.1,695.2 L1560.2,695.3 L1562.4,695.4 L1564.5,695.5 L1566.7,695.6 L1568.8,695.6 L1571.0,695.7 L1573.2,695.8 L1575.3,695.9 L1577.5,696.0 L1579.6,696.0 L1581.8,696.1 L1583.9,696.2 L1586.1,696.3 L1588.2,696.3 L1590.4,696.4 L1592.5,696.5 L1594.7,696.6 L1596.8,696.7 L1599.0,696.7 L1601.1,696.8 L1603.3,696.9 L1605.4,697.0 L1607.6,697.0 L1609.7,697.1 L1611.9,697.2 L1614.1,697.2 L1616.2,697.3 L1618.4,697.4 L1620.5,697.5 L1622.7,697.5 L1624.8,697.6 L1627.0,697.7 L1629.1,697.7 L1631.3,697.8 L1633.4,697.9 L1635.6,697.9 L1637.7,698.0 L1639.9,698.1 L1642.0,698.1 L1644.2,698.2 L1646.3,698.3 L1648.5,698.3 L1650.6,698.4 L1652.8,698.5 L1654.9,698.5 L1657.1,698.6 L1659.2,698.6 L1661.4,698.7 L1663.5,698.8 L1665.7,698.8 L1667.8,698.9 L1670.0,698.9 L1672.1,699.0 L1674.3,699.0 L1676.4,699.1 L1678.6,699.1 L1680.7,699.2 L1682.9,699.2 L1685.0,699.3 L1687.2,699.3 L1689.3,699.4 L1691.5,699.4 L1693.6,699.5 L1695.8,699.5 L1697.9,699.6 L1700.1,699.6 L1702.3,699.7 L1704.4,699.7 L1706.6,699.8 L1708.7,699.8 L1710.9,699.8 L1713.0,699.9 L1715.2,699.9 L1842.6,699.9 L1717.0,699.9 L1842.4,699.9 L1717.1,699.9 L1842.2,700.0 L1717.5,700.0 L1842.0,700.0 L1717.7,700.0 L1841.8,700.0 L1717.9,700.0 L1841.6,700.0 L1718.1,700.0 L1841.4,700.0 L1718.3,700.0 L1841.2,700.0 L1718.5,700.0 L1841.0,700.0 L1718.9,700.0 L1840.8,700.0 L1719.1,700.0 L1840.6,700.0 L1719.3,700.0 L1840.4,700.0 L1719.5,700.0 L1840.2,700.0 L1719.7,700.0 L1840.0,700.0 L1719.9,700.0 L1839.8,700.0 L1720.3,700.0 L1839.6,700.0 L1720.5,700.0 L1839.4,700.0 L1720.7,700.0 L1839.2,700.0 L1720.9,700.0 L1839.0,700.0 L1721.1,700.0 L1838.8,700.0 L1721.3,700.0 L1838.6,700.0 L1721.7,700.0 L1838.4,700.0 L1721.9,700.0 L1838.2,700.0 L1722.0,700.0 L1838.0,700.0 L1722.2,700.0 L1837.8,700.0 L1722.4,700.0 L1837.6,700.0 L1722.6,700.0 L1837.4,700.0 L1723.0,700.0 L1837.2,700.0 L1723.2,700.0 L1837.0,700.0 L1723.4,700.0 L1836.8,700.0 L1723.6,700.1 L1836.6,700.1 L1723.8,700.1 L1836.4,700.1 L1724.0,700.1 L1836.2,700.1 L1724.4,700.1 L1836.0,700.1 L1724.6,700.1 L1835.8,700.1 L1724.8,700.1 L1835.6,700.1 L1725.0,700.1 L1835.4,700.1 L1725.2,700.1 L1835.2,700.1 L1725.4,700.1 L1835.0,700.1 L1725.6,700.1 L1834.8,700.1 L1726.0,700.1 L1834.6,700.1 L1726.2,700.1 L1834.4,700.1 L1726.4,700.1 L1834.2,700.1 L1726.6,700.1 L1834.0,700.1 L1726.8,700.1 L1833.8,700.1 L1727.0,700.1 L1833.6,700.1 L1727.3,700.1 L1833.4,700.1 L1727.5,700.1 L1833.2,700.1 L1727.7,700.1 L1833.0,700.1 L1727.9,700.1 L1832.8,700.1 L1728.1,700.1 L1832.6,700.1 L1728.3,700.1 L1832.4,700.1 L1728.5,700.1 L1832.2,700.1 L1728.9,700.1 L1832.0,700.1 L1729.1,700.1 L1831.8,700.1 L1729.3,700.1 L1831.6,700.1 L1729.5,700.1 L1831.4,700.1 L1729.7,700.1 L1831.2,700.1 L1729.9,700.1 L1831.0,700.1 L1730.1,700.1 L1830.8,700.1 L1730.5,700.1 L1830.6,700.2 L1730.7,700.2 L1830.4,700.2 L1730.9,700.2 L1830.2,700.2 L1731.1,700.2 L1830.0,700.2 L1731.3,700.2 L1829.8,700.2 L1731.5,700.2 L1829.6,700.2 L1731.7,700.2 L1829.4,700.2 L1732.1,700.2 L1829.2,700.2 L1732.3,700.2 L1829.0,700.2 L1732.5,700.2 L1828.8,700.2 L1732.6,700.2 L1828.6,700.2 L1732.8,700.2 L1828.4,700.2 L1733.0,700.2 L1828.2,700.2 L1733.2,700.2 L1828.0,700.2 L1733.4,700.2 L1827.8,700.2 L1733.8,700.2 L1827.6,700.2 L1734.0,700.2 L1827.4,700.2 L1734.2,700.2 L1827.3,700.2 L1734.4,700.2 L1827.1,700.2 L1734.6,700.2 L1826.9,700.2 L1734.8,700.2 L1826.7,700.2 L1735.0,700.2 L1826.5,700.2 L1735.2,700.2 L1826.3,700.2 L1735.6,700.2 L1826.1,700.2 L1735.8,700.2 L1825.9,700.2 L1736.0,700.2 L1825.7,700.2 L1736.2,700.2 L1825.5,700.2 L1736.4,700.2 L1825.3,700.2 L1736.6,700.2 L1825.1,700.2 L1736.8,700.2 L1824.9,700.2 L1737.0,700.2 L1824.7,700.2 L1737.4,700.2 L1824.5,700.2 L1737.6,700.2 L1824.3,700.2 L1737.8,700.2 L1824.1,700.2 L1737.9,700.2 L1823.9,700.2 L1738.1,700.2 L1823.7,700.2 L1738.3,700.2 L1823.5,700.3 L1738.5,700.3 L1823.3,700.3 L1738.7,700.3 L1823.1,700.3 L1739.1,700.3 L1822.9,700.3 L1739.3,700.3 L1822.7,700.3 L1739.5,700.3 L1822.5,700.3 L1739.7,700.3 L1822.3,700.3 L1739.9,700.3 L1822.1,700.3 L1740.1,700.3 L1821.9,700.3 L1740.3,700.3 L1821.7,700.3 L1740.5,700.3 L1821.5,700.3 L1740.7,700.3 L1821.3,700.3 L1741.1,700.3 L1821.1,700.3 L1741.3,700.3 L1820.9,700.3 L1741.5,700.3 L1820.7,700.3 L1741.7,700.3 L1820.5,700.3 L1741.9,700.3 L1820.3,700.3 L1742.1,700.3 L1820.1,700.3 L1742.3,700.3 L1819.9,700.3 L1742.5,700.3 L1819.7,700.3 L1742.7,700.3 L1819.5,700.3 L1743.1,700.3 L1819.3,700.3 L1743.3,700.3 L1819.1,700.3 L1743.5,700.3 L1818.9,700.3 L1743.6,700.3 L1818.7,700.3 L1743.8,700.3 L1818.5,700.3 L1744.0,700.3 L1818.3,700.3 L1744.2,700.3 L1818.1,700.3 L1744.4,700.3 L1817.9,700.3 L1744.6,700.3 L1817.7,700.3 L1744.8,700.3 L1817.5,700.3 L1745.2,700.3 L1817.3,700.3 L1745.4,700.3 L1817.1,700.3 L1745.6,700.3 L1816.9,700.3 L1745.8,700.3 L1816.7,700.3 L1746.0,700.3 L1816.5,700.3 L1746.2,700.3 L1816.3,700.3 L1746.4,700.3 L1816.1,700.3 L1746.6,700.3 L1815.9,700.3 L1746.8,700.3 L1815.7,700.3 L1747.0,700.3 L1815.5,700.3 L1747.2,700.3 L1815.3,700.3 L1747.6,700.3 L1815.1,700.3 L1747.8,700.3 L1814.9,700.4 L1748.0,700.4 L1814.7,700.4 L1748.2,700.4 L1814.5,700.4 L1748.4,700.4 L1814.3,700.4 L1748.6,700.4 L1814.1,700.4 L1748.8,700.4 L1813.9,700.4 L1749.0,700.4 L1813.7,700.4 L1749.2,700.4 L1813.5,700.4 L1749.3,700.4 L1813.3,700.4 L1749.5,700.4 L1813.1,700.4 L1749.9,700.4 L1812.9,700.4 L1750.1,700.4 L1812.7,700.4 L1750.3,700.4 L1812.5,700.4 L1750.5,700.4 L1812.3,700.4 L1750.7,700.4 L1812.2,700.4 L1750.9,700.4 L1812.0,700.4 L1751.1,700.4 L1811.8,700.4 L1751.3,700.4 L1811.6,700.4 L1751.5,700.4 L1811.4,700.4 L1751.7,700.4 L1811.2,700.4 L1751.9,700.4 L1811.0,700.4 L1752.1,700.4 L1810.8,700.4 L1752.5,700.4 L1810.6,700.4 L1752.7,700.4 L1810.4,700.4 L1752.9,700.4 L1810.2,700.4 L1753.1,700.4 L1810.0,700.4 L1753.3,700.4 L1809.8,700.4 L1753.5,700.4 L1809.6,700.4 L1753.7,700.4 L1809.4,700.4 L1753.9,700.4 L1809.2,700.4 L1754.1,700.4 L1809.0,700.4 L1754.3,700.4 L1808.8,700.4 L1754.5,700.4 L1808.6,700.4 L1754.7,700.4 L1808.4,700.4 L1754.9,700.4 L1808.2,700.4 L1755.1,700.4 L1808.0,700.4 L1755.4,700.4 L1807.8,700.4 L1755.6,700.4 L1807.6,700.4 L1755.8,700.4 L1807.4,700.4 L1756.0,700.4 L1807.2,700.4 L1756.2,700.4 L1807.0,700.4 L1756.4,700.4 L1806.8,700.4 L1756.6,700.4 L1806.6,700.4 L1756.8,700.4 L1806.4,700.4 L1757.0,700.4 L1806.2,700.4 L1757.2,700.4 L1806.0,700.4 L1757.4,700.4 L1805.8,700.4 L1757.6,700.4 L1805.6,700.4 L1757.8,700.4 L1805.4,700.4 L1758.0,700.4 L1805.2,700.4 L1758.4,700.4 L1805.0,700.4 L1758.6,700.4 L1804.8,700.4 L1758.8,700.4 L1804.6,700.4 L1759.0,700.4 L1804.4,700.4 L1759.2,700.4 L1804.2,700.4 L1759.4,700.4 L1804.0,700.4 L1759.6,700.4 L1803.8,700.4 L1759.8,700.4 L1803.6,700.4 L1760.0,700.4 L1803.4,700.4 L1760.2,700.4 L1803.2,700.4 L1760.4,700.4 L1803.0,700.4 L1760.6,700.4 L1802.8,700.4 L1760.8,700.4 L1802.6,700.5 L1761.0,700.5 L1802.4,700.5 L1761.2,700.5 L1802.2,700.5 L1761.4,700.5 L1802.0,700.5 L1761.6,700.5 L1801.8,700.5 L1761.7,700.5 L1801.6,700.5 L1762.1,700.5 L1801.4,700.5 L1762.3,700.5 L1801.2,700.5 L1762.5,700.5 L1801.0,700.5 L1762.7,700.5 L1800.9,700.5 L1762.9,700.5 L1800.7,700.5 L1763.1,700.5 L1800.5,700.5 L1763.3,700.5 L1800.3,700.5 L1763.5,700.5 L1800.1,700.5 L1763.7,700.5 L1799.9,700.5 L1763.9,700.5 L1799.7,700.5 L1764.1,700.5 L1799.5,700.5 L1764.3,700.5 L1799.3,700.5 L1764.5,700.5 L1799.1,700.5 L1764.7,700.5 L1798.9,700.5 L1764.9,700.5 L1798.7,700.5 L1765.1,700.5 L1798.5,700.5 L1765.3,700.5 L1798.3,700.5 L1765.5,700.5 L1798.1,700.5 L1765.7,700.5 L1797.9,700.5 L1765.9,700.5 L1797.7,700.5 L1766.1,700.5 L1797.5,700.5 L1766.5,700.5 L1797.3,700.5 L1766.7,700.5 L1797.1,700.5 L1766.9,700.5 L1796.9,700.5 L1767.1,700.5 L1796.7,700.5 L1767.3,700.5 L1796.5,700.5 L1767.5,700.5 L1796.3,700.5 L1767.7,700.5 L1796.1,700.5 L1767.9,700.5 L1795.9,700.5 L1768.1,700.5 L1795.7,700.5 L1768.3,700.5 L1795.5,700.5 L1768.4,700.5 L1795.3,700.5 L1768.6,700.5 L1795.1,700.5 L1768.8,700.5 L1794.9,700.5 L1769.0,700.5 L1794.7,700.5 L1769.2,700.5 L1794.5,700.5 L1769.4,700.5 L1794.3,700.5 L1769.6,700.5 L1794.1,700.5 L1769.8,700.5 L1793.9,700.5 L1770.0,700.5 L1793.7,700.5 L1770.2,700.5 L1793.5,700.5 L1770.4,700.5 L1793.3,700.5 L1770.6,700.5 L1793.1,700.5 L1770.8,700.5 L1792.9,700.5 L1771.0,700.5 L1792.7,700.5 L1771.2,700.5 L1792.5,700.5 L1771.4,700.5 L1792.3,700.5 L1771.6,700.5 L1792.1,700.5 L1771.8,700.5 L1791.9,700.5 L1772.0,700.5 L1791.7,700.5 L1772.2,700.5 L1791.5,700.5 L1772.6,700.5 L1791.4,700.5 L1772.8,700.5 L1791.2,700.5 L1773.0,700.5 L1791.0,700.5 L1773.2,700.5 L1790.8,700.5 L1773.4,700.5 L1790.6,700.5 L1773.6,700.5 L1790.4,700.5 L1773.8,700.5 L1790.2,700.5 L1774.0,700.5 L1790.0,700.5 L1774.2,700.5 L1789.8,700.5 L1774.4,700.5 L1789.6,700.5 L1774.6,700.5 L1789.4,700.5 L1774.8,700.5 L1789.2,700.5 L1775.0,700.5 L1789.0,700.5 L1775.2,700.5 L1788.8,700.5 L1775.4,700.5 L1788.6,700.5 L1775.5,700.5 L1788.4,700.5 L1775.7,700.5 L1788.2,700.5 L1775.9,700.5 L1788.0,700.5 L1776.1,700.5 L1787.8,700.5 L1776.3,700.5 L1787.6,700.5 L1776.5,700.5 L1787.4,700.5 L1776.7,700.5 L1787.2,700.5 L1776.9,700.5 L1787.0,700.5 L1777.1,700.5 L1786.8,700.5 L1777.3,700.5 L1786.6,700.5 L1777.5,700.5 L1786.4,700.5 L1777.7,700.5 L1786.2,700.5 L1777.9,700.5 L1786.0,700.5 L1778.1,700.5 L1785.8,700.5 L1778.3,700.5 L1785.6,700.5 L1778.5,700.5 L1785.4,700.5 L1778.7,700.5 L1785.2,700.5 L1778.9,700.5 L1785.0,700.5 L1779.1,700.5 L1784.8,700.5 L1779.3,700.5 L1784.6,700.5 L1779.5,700.5 L1784.4,700.5 L1779.7,700.5 L1784.2,700.5 L1779.9,700.5 L1784.0,700.5 L1780.1,700.5 L1783.8,700.5 L1780.3,700.5 L1783.6,700.5 L1780.5,700.5 L1783.4,700.5 L1780.7,700.5 L1783.2,700.5 L1780.9,700.5 L1783.1,700.5 L1782.1,700.5" stroke="#ff00ff" stroke-linecap="round"/>
<path d="M1174.5,492.6 L1174.7,494.7 L1175.0,496.8 L1175.2,498.9 L1175.4,500.6" stroke="#ff00ff" stroke-linecap="round"/>
<path d="M1178.3,525.1 L1178.6,527.2 L1178.9,529.3 L1179.2,531.5 L1179.5,533.6 L1179.6,534.6" stroke="#ff00ff" stroke-linecap="round"/>
<path d="M1182.0,549.4 L1182.4,551.5 L1182.8,553.7 L1183.2,555.8 L1183.7,557.9 L1184.1,560.1 L1184.2,560.6" stroke="#ff00ff" stroke-linecap="round"/>
<rect x="272.60" y="717.90" width="26" height="26" fill="#000000"/>
<rect x="415.00" y="724.90" width="26" height="26" fill="#000000"/>
<rect x="557.40" y="733.80" width="26" height="26" fill="#000000"/>
<rect x="700.00" y="748.60" width="26" height="26" fill="#000000"/>
<rect x="843.00" y="777.90" width="26" height="26" fill="#000000"/>
<rect x="985.50" y="876.80" width="26" height="26" fill="#000000"/>
<rect x="1271.00" y="540.80" width="26" height="26" fill="#000000"/>
<rect x="1413.00" y="623.00" width="26" height="26" fill="#000000"/>
<rect x="1556.00" y="649.90" width="26" height="26" fill="#000000"/>
<rect x="1699.00" y="664.00" width="26" height="26" fill="#000000"/>
<circle cx="285.60" cy="726.50" r="14.4" fill="#ff0000"/>
<circle cx="428.00" cy="731.60" r="14.4" fill="#ff0000"/>
<circle cx="570.40" cy="738.40" r="14.4" fill="#ff0000"/>
<circle cx="713.00" cy="750.20" r="14.4" fill="#ff0000"/>
<circle cx="856.00" cy="772.60" r="14.4" fill="#ff0000"/>
<circle cx="998.50" cy="844.40" r="14.4" fill="#ff0000"/>
<circle cx="1284.00" cy="595.40" r="14.4" fill="#ff0000"/>
<circle cx="1426.00" cy="655.40" r="14.4" fill="#ff0000"/>
<circle cx="1569.00" cy="675.40" r="14.4" fill="#ff0000"/>
<circle cx="1712.00" cy="685.60" r="14.4" fill="#ff0000"/>
<polygon points="285.60,705.90 302.60,735.90 268.60,735.90" fill="#0000ff"/>
<polygon points="428.00,709.00 445.00,739.00 411.00,739.00" fill="#0000ff"/>
<polygon points="570.40,712.90 587.40,742.90 553.40,742.90" fill="#0000ff"/>
<polygon points="713.00,719.90 730.00,749.90 696.00,749.90" fill="#0000ff"/>
<polygon points="856.00,735.00 873.00,765.00 839.00,765.00" fill="#0000ff"/>
<polygon points="998.50,783.10 1015.50,813.10 981.50,813.10" fill="#0000ff"/>
<polygon points="1284.00,613.70 1301.00,643.70 1267.00,643.70" fill="#0000ff"/>
<polygon points="1426.00,653.60 1443.00,683.60 1409.00,683.60" fill="#0000ff"/>
<polygon points="1569.00,668.10 1586.00,698.10 1552.00,698.10" fill="#0000ff"/>
<polygon points="1712.00,673.50 1729.00,703.50 1695.00,703.50" fill="#0000ff"/>
<polygon points="268.60,715.00 302.60,715.00 285.60,745.00" fill="#ff00ff"/>
<polygon points="411.00,716.00 445.00,716.00 428.00,746.00" fill="#ff00ff"/>
<polygon points="553.40,718.00 587.40,718.00 570.40,748.00" fill="#ff00ff"/>
<polygon points="696.00,721.10 730.00,721.10 713.00,751.10" fill="#ff00ff"/>
<polygon points="839.00,728.10 873.00,728.10 856.00,758.10" fill="#ff00ff"/>
<polygon points="981.50,753.00 1015.50,753.00 998.50,783.00" fill="#ff00ff"/>
<polygon points="1267.00,657.80 1301.00,657.80 1284.00,687.80" fill="#ff00ff"/>
<polygon points="1409.00,679.20 1443.00,679.20 1426.00,709.20" fill="#ff00ff"/>
<polygon points="1552.00,685.80 1586.00,685.80 1569.00,715.80" fill="#ff00ff"/>
<polygon points="1695.00,689.10 1729.00,689.10 1712.00,719.10" fill="#ff00ff"/>
</g>
</svg>
</body></html>
